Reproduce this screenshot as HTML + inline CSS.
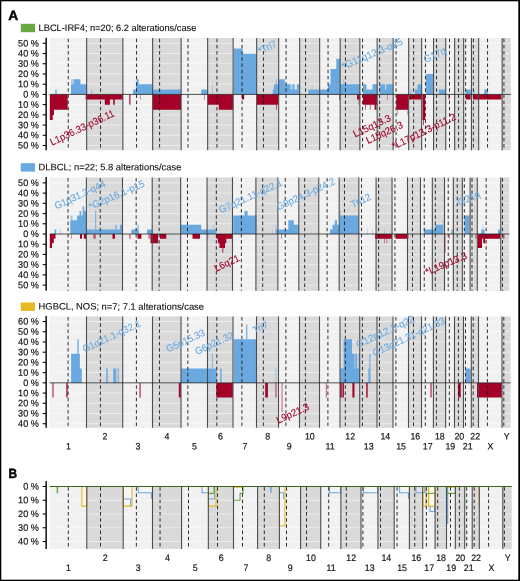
<!DOCTYPE html>
<html lang="en">
<head>
<meta charset="utf-8">
<title>Copy number alterations: LBCL-IRF4, DLBCL, HGBCL NOS</title>
<style>
html,body{margin:0;padding:0;background:#fff;}
body{width:520px;height:581px;overflow:hidden;}
svg{display:block;font-family:'Liberation Sans', Arial, sans-serif;text-rendering:geometricPrecision;}
</style>
</head>
<body>
<svg width="520" height="581" viewBox="0 0 520 581" role="img" aria-label="Copy number alteration frequency plots">
<rect x="0" y="0" width="520" height="581" fill="#ffffff"/>
<rect x="49.75" y="38" width="36.9" height="112.2" fill="#f1f1f1"/>
<rect x="86.65" y="38" width="36.2" height="112.2" fill="#d9d9d9"/>
<rect x="122.85" y="38" width="29.8" height="112.2" fill="#f1f1f1"/>
<rect x="152.65" y="38" width="28.5" height="112.2" fill="#d9d9d9"/>
<rect x="181.15" y="38" width="26.5" height="112.2" fill="#f1f1f1"/>
<rect x="207.65" y="38" width="25.5" height="112.2" fill="#d9d9d9"/>
<rect x="233.15" y="38" width="23.5" height="112.2" fill="#f1f1f1"/>
<rect x="256.65" y="38" width="22" height="112.2" fill="#d9d9d9"/>
<rect x="278.65" y="38" width="21" height="112.2" fill="#f1f1f1"/>
<rect x="299.65" y="38" width="20" height="112.2" fill="#d9d9d9"/>
<rect x="319.65" y="38" width="20.5" height="112.2" fill="#f1f1f1"/>
<rect x="340.15" y="38" width="19.7" height="112.2" fill="#d9d9d9"/>
<rect x="359.85" y="38" width="17.3" height="112.2" fill="#f1f1f1"/>
<rect x="377.15" y="38" width="16" height="112.2" fill="#d9d9d9"/>
<rect x="393.15" y="38" width="15.5" height="112.2" fill="#f1f1f1"/>
<rect x="408.65" y="38" width="13" height="112.2" fill="#d9d9d9"/>
<rect x="421.65" y="38" width="11.9" height="112.2" fill="#f1f1f1"/>
<rect x="433.55" y="38" width="12.2" height="112.2" fill="#d9d9d9"/>
<rect x="445.75" y="38" width="8.9" height="112.2" fill="#f1f1f1"/>
<rect x="454.65" y="38" width="9" height="112.2" fill="#d9d9d9"/>
<rect x="463.65" y="38" width="7.8" height="112.2" fill="#f1f1f1"/>
<rect x="471.45" y="38" width="7.2" height="112.2" fill="#d9d9d9"/>
<rect x="478.65" y="38" width="23.5" height="112.2" fill="#f1f1f1"/>
<rect x="502.15" y="38" width="8.6" height="112.2" fill="#d9d9d9"/>
<line x1="49.75" y1="43.3" x2="510.75" y2="43.3" stroke="#ffffff" stroke-width="1" stroke-opacity="0.5"/>
<line x1="49.75" y1="53.52" x2="510.75" y2="53.52" stroke="#ffffff" stroke-width="1" stroke-opacity="0.5"/>
<line x1="49.75" y1="63.74" x2="510.75" y2="63.74" stroke="#ffffff" stroke-width="1" stroke-opacity="0.5"/>
<line x1="49.75" y1="73.96" x2="510.75" y2="73.96" stroke="#ffffff" stroke-width="1" stroke-opacity="0.5"/>
<line x1="49.75" y1="84.18" x2="510.75" y2="84.18" stroke="#ffffff" stroke-width="1" stroke-opacity="0.5"/>
<line x1="49.75" y1="94.4" x2="510.75" y2="94.4" stroke="#ffffff" stroke-width="1" stroke-opacity="0.5"/>
<line x1="49.75" y1="104.62" x2="510.75" y2="104.62" stroke="#ffffff" stroke-width="1" stroke-opacity="0.5"/>
<line x1="49.75" y1="114.84" x2="510.75" y2="114.84" stroke="#ffffff" stroke-width="1" stroke-opacity="0.5"/>
<line x1="49.75" y1="125.06" x2="510.75" y2="125.06" stroke="#ffffff" stroke-width="1" stroke-opacity="0.5"/>
<line x1="49.75" y1="135.28" x2="510.75" y2="135.28" stroke="#ffffff" stroke-width="1" stroke-opacity="0.5"/>
<line x1="49.75" y1="145.5" x2="510.75" y2="145.5" stroke="#ffffff" stroke-width="1" stroke-opacity="0.5"/>
<path d="M71 94.5V84.3H73.7V79.2H80.4V84.3H86.6V94.5Z M133.1 94.5V89.4H135.9V84.3H136.3V84.3H136.8V79.2H138.7V84.3H152.6V89.4H181V94.5Z M201.3 94.5V89.4H207.8V94.5Z M233.8 94.5V48.6H242.5V53.7H257V94.5Z M272.8 94.5V89.4H274V84.3H278.8V79.2H284.8V84.3H290.5V89.4H293V84.3H294.5V89.4H297V84.3H299.3V94.5Z M308.3 94.5V89.4H320.3V89.4H328V84.3H330.5V69H336.3V58.8H340.4V84.3H360.2V94.5Z M363 94.5V84.3H366.4V89.4H372.5V84.3H377.5V94.5Z M379.8 94.5V84.3H385.1V89.4H386.1V84.3H393V94.5Z M415 94.5V89.4H417.5V84.3H421.6V94.5Z M425.8 94.5V74.1H433.9V94.5Z M438.8 94.5V89.4H445.6V94.5Z M465.8 94.5V89.4H470.6V94.5Z M484.2 94.5V89.4H487.6V94.5Z" fill="#6aa9e0"/>
<rect x="55.2" y="89.4" width="1.6" height="5.1" fill="#6aa9e0" fill-opacity="0.8"/>
<rect x="71" y="79.2" width="2.7" height="5.1" fill="#6aa9e0" fill-opacity="0.5"/>
<rect x="91" y="89.4" width="1.2" height="5.1" fill="#6aa9e0" fill-opacity="0.6"/>
<rect x="212.2" y="84.3" width="0.8" height="10.2" fill="#6aa9e0" fill-opacity="0.5"/>
<rect x="275.9" y="79.2" width="1" height="5.1" fill="#6aa9e0" fill-opacity="0.6"/>
<rect x="290.5" y="84.3" width="2.5" height="5.1" fill="#6aa9e0" fill-opacity="0.55"/>
<rect x="294.5" y="84.3" width="2.5" height="5.1" fill="#6aa9e0" fill-opacity="0.15"/>
<rect x="311.8" y="84.3" width="0.6" height="5.1" fill="#6aa9e0" fill-opacity="0.5"/>
<rect x="343.4" y="79.2" width="0.8" height="5.1" fill="#6aa9e0" fill-opacity="0.6"/>
<rect x="410.4" y="89.4" width="1.2" height="5.1" fill="#6aa9e0" fill-opacity="0.5"/>
<rect x="461" y="89.4" width="0.8" height="5.1" fill="#6aa9e0" fill-opacity="0.4"/>
<rect x="473.2" y="89.4" width="1.4" height="5.1" fill="#6aa9e0" fill-opacity="0.6"/>
<path d="M49.8 94.5V120H52.7V114.9H54V109.8H67.7V94.5Z M85.6 94.5V99.6H104.8V104.7H109.9V99.6H113.2V104.7H114.8V99.6H122.9V94.5Z M152.6 94.5V109.8H181V94.5Z M208 94.5V104.7H218.8V109.8H233.2V94.5Z M241.9 94.5V99.6H244.2V94.5Z M256.8 94.5V104.7H278.5V94.5Z M357 94.5V99.6H360.2V94.5Z M363 94.5V104.7H374.6V109.8H376.4V104.7H377.2V94.5Z M396.3 94.5V109.8H408.2V94.5Z M408.8 94.5V99.6H422.2V94.5Z M422.5 94.5V120H425.2V94.5Z M465.8 94.5V99.6H470.6V94.5Z M473 94.5V99.6H501.4V94.5Z" fill="#a50027"/>
<rect x="129" y="94.5" width="1.6" height="10.2" fill="#a50027" fill-opacity="0.7"/>
<rect x="140" y="94.5" width="0.8" height="5.1" fill="#a50027" fill-opacity="0.5"/>
<rect x="204" y="94.5" width="0.8" height="5.1" fill="#a50027" fill-opacity="0.6"/>
<rect x="276" y="104.7" width="1" height="5.1" fill="#a50027" fill-opacity="0.6"/>
<rect x="339.2" y="94.5" width="0.8" height="5.1" fill="#a50027" fill-opacity="0.8"/>
<rect x="358.6" y="99.6" width="0.8" height="5.1" fill="#a50027" fill-opacity="0.7"/>
<rect x="365.2" y="104.7" width="0.8" height="5.1" fill="#a50027" fill-opacity="0.7"/>
<rect x="369.8" y="104.7" width="0.8" height="5.1" fill="#a50027" fill-opacity="0.7"/>
<rect x="387.3" y="94.5" width="0.7" height="5.1" fill="#a50027" fill-opacity="0.6"/>
<rect x="397.2" y="109.8" width="0.8" height="5.1" fill="#a50027" fill-opacity="0.4"/>
<rect x="407.2" y="109.8" width="1" height="5.1" fill="#a50027" fill-opacity="0.4"/>
<rect x="423" y="120" width="1" height="5.1" fill="#a50027" fill-opacity="0.7"/>
<rect x="448.3" y="94.5" width="1.1" height="5.1" fill="#a50027" fill-opacity="0.6"/>
<line x1="86.65" y1="38" x2="86.65" y2="150.2" stroke="#4d4d4d" stroke-width="1.1"/>
<line x1="122.85" y1="38" x2="122.85" y2="150.2" stroke="#4d4d4d" stroke-width="1.1"/>
<line x1="152.65" y1="38" x2="152.65" y2="150.2" stroke="#4d4d4d" stroke-width="1.1"/>
<line x1="181.15" y1="38" x2="181.15" y2="150.2" stroke="#4d4d4d" stroke-width="1.1"/>
<line x1="207.65" y1="38" x2="207.65" y2="150.2" stroke="#4d4d4d" stroke-width="1.1"/>
<line x1="233.15" y1="38" x2="233.15" y2="150.2" stroke="#4d4d4d" stroke-width="1.1"/>
<line x1="256.65" y1="38" x2="256.65" y2="150.2" stroke="#4d4d4d" stroke-width="1.1"/>
<line x1="278.65" y1="38" x2="278.65" y2="150.2" stroke="#4d4d4d" stroke-width="1.1"/>
<line x1="299.65" y1="38" x2="299.65" y2="150.2" stroke="#4d4d4d" stroke-width="1.1"/>
<line x1="319.65" y1="38" x2="319.65" y2="150.2" stroke="#4d4d4d" stroke-width="1.1"/>
<line x1="340.15" y1="38" x2="340.15" y2="150.2" stroke="#4d4d4d" stroke-width="1.1"/>
<line x1="359.85" y1="38" x2="359.85" y2="150.2" stroke="#4d4d4d" stroke-width="1.1"/>
<line x1="377.15" y1="38" x2="377.15" y2="150.2" stroke="#4d4d4d" stroke-width="1.1"/>
<line x1="393.15" y1="38" x2="393.15" y2="150.2" stroke="#4d4d4d" stroke-width="1.1"/>
<line x1="408.65" y1="38" x2="408.65" y2="150.2" stroke="#4d4d4d" stroke-width="1.1"/>
<line x1="421.65" y1="38" x2="421.65" y2="150.2" stroke="#4d4d4d" stroke-width="1.1"/>
<line x1="433.55" y1="38" x2="433.55" y2="150.2" stroke="#4d4d4d" stroke-width="1.1"/>
<line x1="445.75" y1="38" x2="445.75" y2="150.2" stroke="#4d4d4d" stroke-width="1.1"/>
<line x1="454.65" y1="38" x2="454.65" y2="150.2" stroke="#4d4d4d" stroke-width="1.1"/>
<line x1="463.65" y1="38" x2="463.65" y2="150.2" stroke="#4d4d4d" stroke-width="1.1"/>
<line x1="471.45" y1="38" x2="471.45" y2="150.2" stroke="#4d4d4d" stroke-width="1.1"/>
<line x1="478.65" y1="38" x2="478.65" y2="150.2" stroke="#4d4d4d" stroke-width="1.1"/>
<line x1="502.15" y1="38" x2="502.15" y2="150.2" stroke="#4d4d4d" stroke-width="1.1"/>
<line x1="68.25" y1="38.7" x2="68.25" y2="150.2" stroke="#1a1a1a" stroke-width="1" stroke-dasharray="3.5 2.7" stroke-opacity="0.9"/>
<line x1="100.55" y1="38.7" x2="100.55" y2="150.2" stroke="#1a1a1a" stroke-width="1" stroke-dasharray="3.5 2.7" stroke-opacity="0.9"/>
<line x1="136.55" y1="38.7" x2="136.55" y2="150.2" stroke="#1a1a1a" stroke-width="1" stroke-dasharray="3.5 2.7" stroke-opacity="0.9"/>
<line x1="159.6" y1="38.7" x2="159.6" y2="150.2" stroke="#1a1a1a" stroke-width="1" stroke-dasharray="3.5 2.7" stroke-opacity="0.9"/>
<line x1="188" y1="38.7" x2="188" y2="150.2" stroke="#1a1a1a" stroke-width="1" stroke-dasharray="3.5 2.7" stroke-opacity="0.9"/>
<line x1="216.95" y1="38.7" x2="216.95" y2="150.2" stroke="#1a1a1a" stroke-width="1" stroke-dasharray="3.5 2.7" stroke-opacity="0.9"/>
<line x1="242.05" y1="38.7" x2="242.05" y2="150.2" stroke="#1a1a1a" stroke-width="1" stroke-dasharray="3.5 2.7" stroke-opacity="0.9"/>
<line x1="263.45" y1="38.7" x2="263.45" y2="150.2" stroke="#1a1a1a" stroke-width="1" stroke-dasharray="3.5 2.7" stroke-opacity="0.9"/>
<line x1="286.05" y1="38.7" x2="286.05" y2="150.2" stroke="#1a1a1a" stroke-width="1" stroke-dasharray="3.5 2.7" stroke-opacity="0.9"/>
<line x1="305.55" y1="38.7" x2="305.55" y2="150.2" stroke="#1a1a1a" stroke-width="1" stroke-dasharray="3.5 2.7" stroke-opacity="0.9"/>
<line x1="328.05" y1="38.7" x2="328.05" y2="150.2" stroke="#1a1a1a" stroke-width="1" stroke-dasharray="3.5 2.7" stroke-opacity="0.9"/>
<line x1="345.45" y1="38.7" x2="345.45" y2="150.2" stroke="#1a1a1a" stroke-width="1" stroke-dasharray="3.5 2.7" stroke-opacity="0.9"/>
<line x1="362.55" y1="38.7" x2="362.55" y2="150.2" stroke="#1a1a1a" stroke-width="1" stroke-dasharray="3.5 2.7" stroke-opacity="0.9"/>
<line x1="379.65" y1="38.7" x2="379.65" y2="150.2" stroke="#1a1a1a" stroke-width="1" stroke-dasharray="3.5 2.7" stroke-opacity="0.9"/>
<line x1="396.05" y1="38.7" x2="396.05" y2="150.2" stroke="#1a1a1a" stroke-width="1" stroke-dasharray="3.5 2.7" stroke-opacity="0.9"/>
<line x1="413.65" y1="38.7" x2="413.65" y2="150.2" stroke="#1a1a1a" stroke-width="1" stroke-dasharray="3.5 2.7" stroke-opacity="0.9"/>
<line x1="425.45" y1="38.7" x2="425.45" y2="150.2" stroke="#1a1a1a" stroke-width="1" stroke-dasharray="3.5 2.7" stroke-opacity="0.9"/>
<line x1="436.55" y1="38.7" x2="436.55" y2="150.2" stroke="#1a1a1a" stroke-width="1" stroke-dasharray="3.5 2.7" stroke-opacity="0.9"/>
<line x1="449.5" y1="38.7" x2="449.5" y2="150.2" stroke="#1a1a1a" stroke-width="1" stroke-dasharray="3.5 2.7" stroke-opacity="0.9"/>
<line x1="458.55" y1="38.7" x2="458.55" y2="150.2" stroke="#1a1a1a" stroke-width="1" stroke-dasharray="3.5 2.7" stroke-opacity="0.9"/>
<line x1="465.65" y1="38.7" x2="465.65" y2="150.2" stroke="#1a1a1a" stroke-width="1" stroke-dasharray="3.5 2.7" stroke-opacity="0.9"/>
<line x1="473.35" y1="38.7" x2="473.35" y2="150.2" stroke="#1a1a1a" stroke-width="1" stroke-dasharray="3.5 2.7" stroke-opacity="0.9"/>
<line x1="487.55" y1="38.7" x2="487.55" y2="150.2" stroke="#1a1a1a" stroke-width="1" stroke-dasharray="3.5 2.7" stroke-opacity="0.9"/>
<line x1="503.95" y1="38.7" x2="503.95" y2="150.2" stroke="#1a1a1a" stroke-width="1" stroke-dasharray="3.5 2.7" stroke-opacity="0.9"/>
<line x1="49.75" y1="94.4" x2="510.75" y2="94.4" stroke="#222222" stroke-width="0.8"/>
<text x="52" y="145.8" font-size="10" fill="#a50027" stroke="#a50027" stroke-width="0.1" transform="rotate(-25.5 52 145.8)" textLength="70.02" lengthAdjust="spacingAndGlyphs">L1p36.33-p36.11</text>
<text x="260.1" y="54.5" font-size="10" fill="#6aa9e0" stroke="#6aa9e0" stroke-width="0.1" transform="rotate(-25 260.1 54.5)" textLength="19.08" lengthAdjust="spacingAndGlyphs">*Tri7</text>
<text x="343.6" y="69.8" font-size="10" fill="#6aa9e0" stroke="#6aa9e0" stroke-width="0.1" transform="rotate(-23.2 343.6 69.8)" textLength="65.08" lengthAdjust="spacingAndGlyphs">*G11q12.3-q25</text>
<text x="425.4" y="63" font-size="10" fill="#6aa9e0" stroke="#6aa9e0" stroke-width="0.1" transform="rotate(-25 425.4 63)" textLength="23.73" lengthAdjust="spacingAndGlyphs">G17q</text>
<text x="355" y="137.5" font-size="10" fill="#a50027" stroke="#a50027" stroke-width="0.1" transform="rotate(-25 355 137.5)" textLength="40.46" lengthAdjust="spacingAndGlyphs">L15q13.3</text>
<text x="368" y="144" font-size="10" fill="#a50027" stroke="#a50027" stroke-width="0.1" transform="rotate(-25 368 144)" textLength="39.42" lengthAdjust="spacingAndGlyphs">L15q26.3</text>
<text x="394" y="149.7" font-size="10" fill="#a50027" stroke="#a50027" stroke-width="0.1" transform="rotate(-26 394 149.7)" textLength="69.55" lengthAdjust="spacingAndGlyphs">*L17p13.3-p11.2</text>
<line x1="46.15" y1="37.7" x2="46.15" y2="150.2" stroke="#0a0a0a" stroke-width="1.45"/>
<line x1="42.7" y1="43.3" x2="46.15" y2="43.3" stroke="#000000" stroke-width="1.05"/>
<text x="38.9" y="46.4" font-size="9.4" fill="#111" stroke="#111" stroke-width="0.18" text-anchor="end" transform="rotate(0.03 38.9 46.4)" textLength="20.78" lengthAdjust="spacingAndGlyphs">50 %</text>
<line x1="42.7" y1="53.52" x2="46.15" y2="53.52" stroke="#000000" stroke-width="1.05"/>
<text x="38.9" y="56.62" font-size="9.4" fill="#111" stroke="#111" stroke-width="0.18" text-anchor="end" transform="rotate(0.03 38.9 56.62)" textLength="20.78" lengthAdjust="spacingAndGlyphs">40 %</text>
<line x1="42.7" y1="63.74" x2="46.15" y2="63.74" stroke="#000000" stroke-width="1.05"/>
<text x="38.9" y="66.84" font-size="9.4" fill="#111" stroke="#111" stroke-width="0.18" text-anchor="end" transform="rotate(0.03 38.9 66.84)" textLength="20.78" lengthAdjust="spacingAndGlyphs">30 %</text>
<line x1="42.7" y1="73.96" x2="46.15" y2="73.96" stroke="#000000" stroke-width="1.05"/>
<text x="38.9" y="77.06" font-size="9.4" fill="#111" stroke="#111" stroke-width="0.18" text-anchor="end" transform="rotate(0.03 38.9 77.06)" textLength="20.78" lengthAdjust="spacingAndGlyphs">20 %</text>
<line x1="42.7" y1="84.18" x2="46.15" y2="84.18" stroke="#000000" stroke-width="1.05"/>
<text x="38.9" y="87.28" font-size="9.4" fill="#111" stroke="#111" stroke-width="0.18" text-anchor="end" transform="rotate(0.03 38.9 87.28)" textLength="20.78" lengthAdjust="spacingAndGlyphs">10 %</text>
<line x1="42.7" y1="94.4" x2="46.15" y2="94.4" stroke="#000000" stroke-width="1.05"/>
<text x="38.9" y="97.5" font-size="9.4" fill="#111" stroke="#111" stroke-width="0.18" text-anchor="end" transform="rotate(0.03 38.9 97.5)" textLength="15.71" lengthAdjust="spacingAndGlyphs">0 %</text>
<line x1="42.7" y1="104.62" x2="46.15" y2="104.62" stroke="#000000" stroke-width="1.05"/>
<text x="38.9" y="107.72" font-size="9.4" fill="#111" stroke="#111" stroke-width="0.18" text-anchor="end" transform="rotate(0.03 38.9 107.72)" textLength="20.78" lengthAdjust="spacingAndGlyphs">10 %</text>
<line x1="42.7" y1="114.84" x2="46.15" y2="114.84" stroke="#000000" stroke-width="1.05"/>
<text x="38.9" y="117.94" font-size="9.4" fill="#111" stroke="#111" stroke-width="0.18" text-anchor="end" transform="rotate(0.03 38.9 117.94)" textLength="20.78" lengthAdjust="spacingAndGlyphs">20 %</text>
<line x1="42.7" y1="125.06" x2="46.15" y2="125.06" stroke="#000000" stroke-width="1.05"/>
<text x="38.9" y="128.16" font-size="9.4" fill="#111" stroke="#111" stroke-width="0.18" text-anchor="end" transform="rotate(0.03 38.9 128.16)" textLength="20.78" lengthAdjust="spacingAndGlyphs">30 %</text>
<line x1="42.7" y1="135.28" x2="46.15" y2="135.28" stroke="#000000" stroke-width="1.05"/>
<text x="38.9" y="138.38" font-size="9.4" fill="#111" stroke="#111" stroke-width="0.18" text-anchor="end" transform="rotate(0.03 38.9 138.38)" textLength="20.78" lengthAdjust="spacingAndGlyphs">40 %</text>
<line x1="42.7" y1="145.5" x2="46.15" y2="145.5" stroke="#000000" stroke-width="1.05"/>
<text x="38.9" y="148.6" font-size="9.4" fill="#111" stroke="#111" stroke-width="0.18" text-anchor="end" transform="rotate(0.03 38.9 148.6)" textLength="20.78" lengthAdjust="spacingAndGlyphs">50 %</text>
<rect x="20.8" y="23.8" width="14.2" height="8.4" fill="#68a743"/>
<text x="38.6" y="30.9" font-size="9.4" fill="#111" stroke="#111" stroke-width="0.12" transform="rotate(0.03 38.6 30.9)" textLength="157.8" lengthAdjust="spacingAndGlyphs">LBCL-IRF4; n=20; 6.2 alterations/case</text>
<rect x="49.6" y="177.4" width="36.8" height="113.4" fill="#f1f1f1"/>
<rect x="86.4" y="177.4" width="36.1" height="113.4" fill="#d9d9d9"/>
<rect x="122.5" y="177.4" width="29.72" height="113.4" fill="#f1f1f1"/>
<rect x="152.21" y="177.4" width="28.42" height="113.4" fill="#d9d9d9"/>
<rect x="180.63" y="177.4" width="26.43" height="113.4" fill="#f1f1f1"/>
<rect x="207.06" y="177.4" width="25.43" height="113.4" fill="#d9d9d9"/>
<rect x="232.49" y="177.4" width="23.43" height="113.4" fill="#f1f1f1"/>
<rect x="255.92" y="177.4" width="21.94" height="113.4" fill="#d9d9d9"/>
<rect x="277.86" y="177.4" width="20.94" height="113.4" fill="#f1f1f1"/>
<rect x="298.8" y="177.4" width="19.94" height="113.4" fill="#d9d9d9"/>
<rect x="318.74" y="177.4" width="20.44" height="113.4" fill="#f1f1f1"/>
<rect x="339.19" y="177.4" width="19.64" height="113.4" fill="#d9d9d9"/>
<rect x="358.83" y="177.4" width="17.25" height="113.4" fill="#f1f1f1"/>
<rect x="376.08" y="177.4" width="15.96" height="113.4" fill="#d9d9d9"/>
<rect x="392.04" y="177.4" width="15.46" height="113.4" fill="#f1f1f1"/>
<rect x="407.5" y="177.4" width="12.96" height="113.4" fill="#d9d9d9"/>
<rect x="420.46" y="177.4" width="11.87" height="113.4" fill="#f1f1f1"/>
<rect x="432.33" y="177.4" width="12.17" height="113.4" fill="#d9d9d9"/>
<rect x="444.49" y="177.4" width="8.88" height="113.4" fill="#f1f1f1"/>
<rect x="453.37" y="177.4" width="8.97" height="113.4" fill="#d9d9d9"/>
<rect x="462.34" y="177.4" width="7.78" height="113.4" fill="#f1f1f1"/>
<rect x="470.12" y="177.4" width="7.18" height="113.4" fill="#d9d9d9"/>
<rect x="477.3" y="177.4" width="23.43" height="113.4" fill="#f1f1f1"/>
<rect x="500.73" y="177.4" width="8.58" height="113.4" fill="#d9d9d9"/>
<line x1="49.6" y1="182.9" x2="509.31" y2="182.9" stroke="#ffffff" stroke-width="1" stroke-opacity="0.5"/>
<line x1="49.6" y1="193.12" x2="509.31" y2="193.12" stroke="#ffffff" stroke-width="1" stroke-opacity="0.5"/>
<line x1="49.6" y1="203.34" x2="509.31" y2="203.34" stroke="#ffffff" stroke-width="1" stroke-opacity="0.5"/>
<line x1="49.6" y1="213.56" x2="509.31" y2="213.56" stroke="#ffffff" stroke-width="1" stroke-opacity="0.5"/>
<line x1="49.6" y1="223.78" x2="509.31" y2="223.78" stroke="#ffffff" stroke-width="1" stroke-opacity="0.5"/>
<line x1="49.6" y1="234" x2="509.31" y2="234" stroke="#ffffff" stroke-width="1" stroke-opacity="0.5"/>
<line x1="49.6" y1="244.22" x2="509.31" y2="244.22" stroke="#ffffff" stroke-width="1" stroke-opacity="0.5"/>
<line x1="49.6" y1="254.44" x2="509.31" y2="254.44" stroke="#ffffff" stroke-width="1" stroke-opacity="0.5"/>
<line x1="49.6" y1="264.66" x2="509.31" y2="264.66" stroke="#ffffff" stroke-width="1" stroke-opacity="0.5"/>
<line x1="49.6" y1="274.88" x2="509.31" y2="274.88" stroke="#ffffff" stroke-width="1" stroke-opacity="0.5"/>
<line x1="49.6" y1="285.1" x2="509.31" y2="285.1" stroke="#ffffff" stroke-width="1" stroke-opacity="0.5"/>
<path d="M54.5 234.1V229.46H56.2V234.1Z M70.2 234.1V220.19H77V215.55H79.5V210.92H81.2V215.55H82.6V206.28H84.2V210.92H86.6V234.1Z M86.8 234.1V229.46H120V224.83H122.6V234.1Z M131.3 234.1V229.46H138.8V234.1Z M147 234.1V229.46H152.2V234.1Z M180.8 234.1V224.83H201.3V229.46H216.3V234.1Z M233.3 234.1V215.55H244.5V210.92H247.6V215.55H256.6V234.1Z M275.6 234.1V229.46H288.3V220.19H293.8V224.83H298.8V234.1Z M330 234.1V229.46H332.5V224.83H334.8V220.19H337V224.83H339.6V215.55H358.8V234.1Z M423.8 234.1V229.46H435V224.83H443.4V234.1Z M451.2 234.1V229.46H452.6V234.1Z M464.5 234.1V215.55H469.6V234.1Z M481.2 234.1V229.46H484.6V234.1Z M498 234.1V229.46H500V234.1Z" fill="#6aa9e0"/>
<rect x="59.8" y="229.46" width="0.8" height="4.64" fill="#6aa9e0" fill-opacity="0.5"/>
<rect x="70.8" y="215.55" width="1.6" height="4.64" fill="#6aa9e0" fill-opacity="0.7"/>
<rect x="95" y="210.92" width="1.2" height="18.55" fill="#6aa9e0" fill-opacity="0.8"/>
<rect x="115.3" y="224.83" width="1.2" height="4.64" fill="#6aa9e0" fill-opacity="0.9"/>
<rect x="137.5" y="224.83" width="1.2" height="4.64" fill="#6aa9e0" fill-opacity="0.85"/>
<rect x="213" y="224.83" width="0.6" height="4.64" fill="#6aa9e0" fill-opacity="0.5"/>
<rect x="271.8" y="229.46" width="0.8" height="4.64" fill="#6aa9e0" fill-opacity="0.5"/>
<rect x="275.2" y="224.83" width="0.8" height="4.64" fill="#6aa9e0" fill-opacity="0.5"/>
<rect x="278" y="215.55" width="0.6" height="13.91" fill="#6aa9e0" fill-opacity="0.5"/>
<rect x="339.8" y="210.92" width="0.8" height="4.64" fill="#6aa9e0" fill-opacity="0.7"/>
<rect x="367.2" y="229.46" width="0.8" height="4.64" fill="#6aa9e0" fill-opacity="0.5"/>
<rect x="372.2" y="229.46" width="0.8" height="4.64" fill="#6aa9e0" fill-opacity="0.5"/>
<rect x="384" y="229.46" width="0.8" height="4.64" fill="#6aa9e0" fill-opacity="0.5"/>
<rect x="442.8" y="220.19" width="0.8" height="4.64" fill="#6aa9e0" fill-opacity="0.7"/>
<rect x="482.6" y="224.83" width="0.8" height="4.64" fill="#6aa9e0" fill-opacity="0.5"/>
<path d="M49.8 234.1V248.01H52V243.37H53.8V238.74H55.5V234.1Z M80 234.1V238.74H82V234.1Z M83.8 234.1V238.74H86.3V234.1Z M112.5 234.1V238.74H115V234.1Z M137.5 234.1V238.74H141.4V234.1Z M150.5 234.1V243.37H158V234.1Z M160 234.1V238.74H166.3V234.1Z M192.5 234.1V238.74H200V234.1Z M216.3 234.1V238.74H218V243.37H219.5V248.01H225V243.37H226.3V238.74H232.6V234.1Z M375 234.1V238.74H392V234.1Z M395.5 234.1V238.74H407.6V234.1Z M477.6 234.1V248.01H482V238.74H483.2V243.37H485.2V238.74H500.2V234.1Z" fill="#a50027"/>
<rect x="71" y="234.1" width="0.8" height="4.64" fill="#a50027" fill-opacity="0.5"/>
<rect x="93.3" y="234.1" width="2.5" height="4.64" fill="#a50027" fill-opacity="0.6"/>
<rect x="129.1" y="234.1" width="1.7" height="4.64" fill="#a50027" fill-opacity="0.5"/>
<rect x="148.4" y="234.1" width="2" height="4.64" fill="#a50027" fill-opacity="0.5"/>
<rect x="207.4" y="234.1" width="0.8" height="4.64" fill="#a50027" fill-opacity="0.5"/>
<rect x="222" y="248.01" width="1.4" height="4.64" fill="#a50027" fill-opacity="0.6"/>
<rect x="281" y="234.1" width="0.8" height="4.64" fill="#a50027" fill-opacity="0.6"/>
<rect x="384.2" y="238.74" width="0.8" height="4.64" fill="#a50027" fill-opacity="0.5"/>
<rect x="386.4" y="238.74" width="0.8" height="4.64" fill="#a50027" fill-opacity="0.5"/>
<rect x="407.6" y="234.1" width="1.4" height="4.64" fill="#a50027" fill-opacity="0.35"/>
<rect x="444.8" y="234.1" width="0.8" height="18.55" fill="#a50027" fill-opacity="0.6"/>
<rect x="448.6" y="234.1" width="1.4" height="4.64" fill="#a50027" fill-opacity="0.4"/>
<rect x="475.1" y="234.1" width="2.5" height="4.64" fill="#a50027" fill-opacity="0.4"/>
<rect x="502.5" y="234.1" width="2" height="4.64" fill="#a50027" fill-opacity="0.6"/>
<line x1="86.4" y1="177.4" x2="86.4" y2="290.8" stroke="#4d4d4d" stroke-width="1.1"/>
<line x1="122.5" y1="177.4" x2="122.5" y2="290.8" stroke="#4d4d4d" stroke-width="1.1"/>
<line x1="152.21" y1="177.4" x2="152.21" y2="290.8" stroke="#4d4d4d" stroke-width="1.1"/>
<line x1="180.63" y1="177.4" x2="180.63" y2="290.8" stroke="#4d4d4d" stroke-width="1.1"/>
<line x1="207.06" y1="177.4" x2="207.06" y2="290.8" stroke="#4d4d4d" stroke-width="1.1"/>
<line x1="232.49" y1="177.4" x2="232.49" y2="290.8" stroke="#4d4d4d" stroke-width="1.1"/>
<line x1="255.92" y1="177.4" x2="255.92" y2="290.8" stroke="#4d4d4d" stroke-width="1.1"/>
<line x1="277.86" y1="177.4" x2="277.86" y2="290.8" stroke="#4d4d4d" stroke-width="1.1"/>
<line x1="298.8" y1="177.4" x2="298.8" y2="290.8" stroke="#4d4d4d" stroke-width="1.1"/>
<line x1="318.74" y1="177.4" x2="318.74" y2="290.8" stroke="#4d4d4d" stroke-width="1.1"/>
<line x1="339.19" y1="177.4" x2="339.19" y2="290.8" stroke="#4d4d4d" stroke-width="1.1"/>
<line x1="358.83" y1="177.4" x2="358.83" y2="290.8" stroke="#4d4d4d" stroke-width="1.1"/>
<line x1="376.08" y1="177.4" x2="376.08" y2="290.8" stroke="#4d4d4d" stroke-width="1.1"/>
<line x1="392.04" y1="177.4" x2="392.04" y2="290.8" stroke="#4d4d4d" stroke-width="1.1"/>
<line x1="407.5" y1="177.4" x2="407.5" y2="290.8" stroke="#4d4d4d" stroke-width="1.1"/>
<line x1="420.46" y1="177.4" x2="420.46" y2="290.8" stroke="#4d4d4d" stroke-width="1.1"/>
<line x1="432.33" y1="177.4" x2="432.33" y2="290.8" stroke="#4d4d4d" stroke-width="1.1"/>
<line x1="444.49" y1="177.4" x2="444.49" y2="290.8" stroke="#4d4d4d" stroke-width="1.1"/>
<line x1="453.37" y1="177.4" x2="453.37" y2="290.8" stroke="#4d4d4d" stroke-width="1.1"/>
<line x1="462.34" y1="177.4" x2="462.34" y2="290.8" stroke="#4d4d4d" stroke-width="1.1"/>
<line x1="470.12" y1="177.4" x2="470.12" y2="290.8" stroke="#4d4d4d" stroke-width="1.1"/>
<line x1="477.3" y1="177.4" x2="477.3" y2="290.8" stroke="#4d4d4d" stroke-width="1.1"/>
<line x1="500.73" y1="177.4" x2="500.73" y2="290.8" stroke="#4d4d4d" stroke-width="1.1"/>
<line x1="68.05" y1="178.1" x2="68.05" y2="290.8" stroke="#1a1a1a" stroke-width="1" stroke-dasharray="3.5 2.7" stroke-opacity="0.9"/>
<line x1="100.26" y1="178.1" x2="100.26" y2="290.8" stroke="#1a1a1a" stroke-width="1" stroke-dasharray="3.5 2.7" stroke-opacity="0.9"/>
<line x1="136.16" y1="178.1" x2="136.16" y2="290.8" stroke="#1a1a1a" stroke-width="1" stroke-dasharray="3.5 2.7" stroke-opacity="0.9"/>
<line x1="159.14" y1="178.1" x2="159.14" y2="290.8" stroke="#1a1a1a" stroke-width="1" stroke-dasharray="3.5 2.7" stroke-opacity="0.9"/>
<line x1="187.46" y1="178.1" x2="187.46" y2="290.8" stroke="#1a1a1a" stroke-width="1" stroke-dasharray="3.5 2.7" stroke-opacity="0.9"/>
<line x1="216.33" y1="178.1" x2="216.33" y2="290.8" stroke="#1a1a1a" stroke-width="1" stroke-dasharray="3.5 2.7" stroke-opacity="0.9"/>
<line x1="241.36" y1="178.1" x2="241.36" y2="290.8" stroke="#1a1a1a" stroke-width="1" stroke-dasharray="3.5 2.7" stroke-opacity="0.9"/>
<line x1="262.7" y1="178.1" x2="262.7" y2="290.8" stroke="#1a1a1a" stroke-width="1" stroke-dasharray="3.5 2.7" stroke-opacity="0.9"/>
<line x1="285.24" y1="178.1" x2="285.24" y2="290.8" stroke="#1a1a1a" stroke-width="1" stroke-dasharray="3.5 2.7" stroke-opacity="0.9"/>
<line x1="304.68" y1="178.1" x2="304.68" y2="290.8" stroke="#1a1a1a" stroke-width="1" stroke-dasharray="3.5 2.7" stroke-opacity="0.9"/>
<line x1="327.12" y1="178.1" x2="327.12" y2="290.8" stroke="#1a1a1a" stroke-width="1" stroke-dasharray="3.5 2.7" stroke-opacity="0.9"/>
<line x1="344.47" y1="178.1" x2="344.47" y2="290.8" stroke="#1a1a1a" stroke-width="1" stroke-dasharray="3.5 2.7" stroke-opacity="0.9"/>
<line x1="361.52" y1="178.1" x2="361.52" y2="290.8" stroke="#1a1a1a" stroke-width="1" stroke-dasharray="3.5 2.7" stroke-opacity="0.9"/>
<line x1="378.58" y1="178.1" x2="378.58" y2="290.8" stroke="#1a1a1a" stroke-width="1" stroke-dasharray="3.5 2.7" stroke-opacity="0.9"/>
<line x1="394.93" y1="178.1" x2="394.93" y2="290.8" stroke="#1a1a1a" stroke-width="1" stroke-dasharray="3.5 2.7" stroke-opacity="0.9"/>
<line x1="412.48" y1="178.1" x2="412.48" y2="290.8" stroke="#1a1a1a" stroke-width="1" stroke-dasharray="3.5 2.7" stroke-opacity="0.9"/>
<line x1="424.25" y1="178.1" x2="424.25" y2="290.8" stroke="#1a1a1a" stroke-width="1" stroke-dasharray="3.5 2.7" stroke-opacity="0.9"/>
<line x1="435.32" y1="178.1" x2="435.32" y2="290.8" stroke="#1a1a1a" stroke-width="1" stroke-dasharray="3.5 2.7" stroke-opacity="0.9"/>
<line x1="448.23" y1="178.1" x2="448.23" y2="290.8" stroke="#1a1a1a" stroke-width="1" stroke-dasharray="3.5 2.7" stroke-opacity="0.9"/>
<line x1="457.26" y1="178.1" x2="457.26" y2="290.8" stroke="#1a1a1a" stroke-width="1" stroke-dasharray="3.5 2.7" stroke-opacity="0.9"/>
<line x1="464.34" y1="178.1" x2="464.34" y2="290.8" stroke="#1a1a1a" stroke-width="1" stroke-dasharray="3.5 2.7" stroke-opacity="0.9"/>
<line x1="472.01" y1="178.1" x2="472.01" y2="290.8" stroke="#1a1a1a" stroke-width="1" stroke-dasharray="3.5 2.7" stroke-opacity="0.9"/>
<line x1="486.17" y1="178.1" x2="486.17" y2="290.8" stroke="#1a1a1a" stroke-width="1" stroke-dasharray="3.5 2.7" stroke-opacity="0.9"/>
<line x1="502.53" y1="178.1" x2="502.53" y2="290.8" stroke="#1a1a1a" stroke-width="1" stroke-dasharray="3.5 2.7" stroke-opacity="0.9"/>
<line x1="49.6" y1="234" x2="509.31" y2="234" stroke="#222222" stroke-width="0.8"/>
<text x="56.4" y="209.5" font-size="10" fill="#6aa9e0" stroke="#6aa9e0" stroke-width="0.1" transform="rotate(-25 56.4 209.5)" textLength="54.88" lengthAdjust="spacingAndGlyphs">G1q31.3-q44</text>
<text x="90.5" y="210" font-size="10" fill="#6aa9e0" stroke="#6aa9e0" stroke-width="0.1" transform="rotate(-23.5 90.5 210)" textLength="59.78" lengthAdjust="spacingAndGlyphs">*G2p16.1-p15</text>
<text x="216.3" y="271.7" font-size="10" fill="#a50027" stroke="#a50027" stroke-width="0.1" transform="rotate(-25 216.3 271.7)" textLength="26.42" lengthAdjust="spacingAndGlyphs">L6q21</text>
<text x="220.8" y="213.5" font-size="10" fill="#6aa9e0" stroke="#6aa9e0" stroke-width="0.1" transform="rotate(-24.5 220.8 213.5)" textLength="68.39" lengthAdjust="spacingAndGlyphs">G7q21.11-q22.1</text>
<text x="278.5" y="210.5" font-size="10" fill="#6aa9e0" stroke="#6aa9e0" stroke-width="0.1" transform="rotate(-25 278.5 210.5)" textLength="63.12" lengthAdjust="spacingAndGlyphs">G9p24.3-p24.2</text>
<text x="352.7" y="208.1" font-size="10" fill="#6aa9e0" stroke="#6aa9e0" stroke-width="0.1" transform="rotate(-25 352.7 208.1)" textLength="20.84" lengthAdjust="spacingAndGlyphs">Tri12</text>
<text x="459.7" y="206.2" font-size="10" fill="#6aa9e0" stroke="#6aa9e0" stroke-width="0.1" transform="rotate(-25 459.7 206.2)" textLength="23.24" lengthAdjust="spacingAndGlyphs">G21q</text>
<text x="427" y="275.4" font-size="10" fill="#a50027" stroke="#a50027" stroke-width="0.1" transform="rotate(-23 427 275.4)" textLength="44.23" lengthAdjust="spacingAndGlyphs">*L19p13.3</text>
<line x1="46.15" y1="177.1" x2="46.15" y2="290.8" stroke="#0a0a0a" stroke-width="1.45"/>
<line x1="42.7" y1="182.9" x2="46.15" y2="182.9" stroke="#000000" stroke-width="1.05"/>
<text x="38.9" y="186" font-size="9.4" fill="#111" stroke="#111" stroke-width="0.18" text-anchor="end" transform="rotate(0.03 38.9 186)" textLength="20.78" lengthAdjust="spacingAndGlyphs">50 %</text>
<line x1="42.7" y1="193.12" x2="46.15" y2="193.12" stroke="#000000" stroke-width="1.05"/>
<text x="38.9" y="196.22" font-size="9.4" fill="#111" stroke="#111" stroke-width="0.18" text-anchor="end" transform="rotate(0.03 38.9 196.22)" textLength="20.78" lengthAdjust="spacingAndGlyphs">40 %</text>
<line x1="42.7" y1="203.34" x2="46.15" y2="203.34" stroke="#000000" stroke-width="1.05"/>
<text x="38.9" y="206.44" font-size="9.4" fill="#111" stroke="#111" stroke-width="0.18" text-anchor="end" transform="rotate(0.03 38.9 206.44)" textLength="20.78" lengthAdjust="spacingAndGlyphs">30 %</text>
<line x1="42.7" y1="213.56" x2="46.15" y2="213.56" stroke="#000000" stroke-width="1.05"/>
<text x="38.9" y="216.66" font-size="9.4" fill="#111" stroke="#111" stroke-width="0.18" text-anchor="end" transform="rotate(0.03 38.9 216.66)" textLength="20.78" lengthAdjust="spacingAndGlyphs">20 %</text>
<line x1="42.7" y1="223.78" x2="46.15" y2="223.78" stroke="#000000" stroke-width="1.05"/>
<text x="38.9" y="226.88" font-size="9.4" fill="#111" stroke="#111" stroke-width="0.18" text-anchor="end" transform="rotate(0.03 38.9 226.88)" textLength="20.78" lengthAdjust="spacingAndGlyphs">10 %</text>
<line x1="42.7" y1="234" x2="46.15" y2="234" stroke="#000000" stroke-width="1.05"/>
<text x="38.9" y="237.1" font-size="9.4" fill="#111" stroke="#111" stroke-width="0.18" text-anchor="end" transform="rotate(0.03 38.9 237.1)" textLength="15.71" lengthAdjust="spacingAndGlyphs">0 %</text>
<line x1="42.7" y1="244.22" x2="46.15" y2="244.22" stroke="#000000" stroke-width="1.05"/>
<text x="38.9" y="247.32" font-size="9.4" fill="#111" stroke="#111" stroke-width="0.18" text-anchor="end" transform="rotate(0.03 38.9 247.32)" textLength="20.78" lengthAdjust="spacingAndGlyphs">10 %</text>
<line x1="42.7" y1="254.44" x2="46.15" y2="254.44" stroke="#000000" stroke-width="1.05"/>
<text x="38.9" y="257.54" font-size="9.4" fill="#111" stroke="#111" stroke-width="0.18" text-anchor="end" transform="rotate(0.03 38.9 257.54)" textLength="20.78" lengthAdjust="spacingAndGlyphs">20 %</text>
<line x1="42.7" y1="264.66" x2="46.15" y2="264.66" stroke="#000000" stroke-width="1.05"/>
<text x="38.9" y="267.76" font-size="9.4" fill="#111" stroke="#111" stroke-width="0.18" text-anchor="end" transform="rotate(0.03 38.9 267.76)" textLength="20.78" lengthAdjust="spacingAndGlyphs">30 %</text>
<line x1="42.7" y1="274.88" x2="46.15" y2="274.88" stroke="#000000" stroke-width="1.05"/>
<text x="38.9" y="277.98" font-size="9.4" fill="#111" stroke="#111" stroke-width="0.18" text-anchor="end" transform="rotate(0.03 38.9 277.98)" textLength="20.78" lengthAdjust="spacingAndGlyphs">40 %</text>
<line x1="42.7" y1="285.1" x2="46.15" y2="285.1" stroke="#000000" stroke-width="1.05"/>
<text x="38.9" y="288.2" font-size="9.4" fill="#111" stroke="#111" stroke-width="0.18" text-anchor="end" transform="rotate(0.03 38.9 288.2)" textLength="20.78" lengthAdjust="spacingAndGlyphs">50 %</text>
<rect x="20.8" y="163.2" width="14.2" height="8.4" fill="#6aa9e0"/>
<text x="38.6" y="170.3" font-size="9.4" fill="#111" stroke="#111" stroke-width="0.12" transform="rotate(0.03 38.6 170.3)" textLength="142.8" lengthAdjust="spacingAndGlyphs">DLBCL; n=22; 5.8 alterations/case</text>
<rect x="49.6" y="316.4" width="36.9" height="111.4" fill="#f1f1f1"/>
<rect x="86.5" y="316.4" width="36.2" height="111.4" fill="#d9d9d9"/>
<rect x="122.7" y="316.4" width="29.8" height="111.4" fill="#f1f1f1"/>
<rect x="152.5" y="316.4" width="28.5" height="111.4" fill="#d9d9d9"/>
<rect x="181" y="316.4" width="26.5" height="111.4" fill="#f1f1f1"/>
<rect x="207.5" y="316.4" width="25.5" height="111.4" fill="#d9d9d9"/>
<rect x="233" y="316.4" width="23.5" height="111.4" fill="#f1f1f1"/>
<rect x="256.5" y="316.4" width="22" height="111.4" fill="#d9d9d9"/>
<rect x="278.5" y="316.4" width="21" height="111.4" fill="#f1f1f1"/>
<rect x="299.5" y="316.4" width="20" height="111.4" fill="#d9d9d9"/>
<rect x="319.5" y="316.4" width="20.5" height="111.4" fill="#f1f1f1"/>
<rect x="340" y="316.4" width="19.7" height="111.4" fill="#d9d9d9"/>
<rect x="359.7" y="316.4" width="17.3" height="111.4" fill="#d9d9d9"/>
<rect x="377" y="316.4" width="16" height="111.4" fill="#d9d9d9"/>
<rect x="393" y="316.4" width="15.5" height="111.4" fill="#f1f1f1"/>
<rect x="408.5" y="316.4" width="13" height="111.4" fill="#d9d9d9"/>
<rect x="421.5" y="316.4" width="11.9" height="111.4" fill="#f1f1f1"/>
<rect x="433.4" y="316.4" width="12.2" height="111.4" fill="#d9d9d9"/>
<rect x="445.6" y="316.4" width="8.9" height="111.4" fill="#f1f1f1"/>
<rect x="454.5" y="316.4" width="9" height="111.4" fill="#d9d9d9"/>
<rect x="463.5" y="316.4" width="7.8" height="111.4" fill="#f1f1f1"/>
<rect x="471.3" y="316.4" width="7.2" height="111.4" fill="#d9d9d9"/>
<rect x="478.5" y="316.4" width="23.5" height="111.4" fill="#f1f1f1"/>
<rect x="502" y="316.4" width="8.6" height="111.4" fill="#d9d9d9"/>
<line x1="49.6" y1="321.53" x2="510.6" y2="321.53" stroke="#ffffff" stroke-width="1" stroke-opacity="0.5"/>
<line x1="49.6" y1="331.75" x2="510.6" y2="331.75" stroke="#ffffff" stroke-width="1" stroke-opacity="0.5"/>
<line x1="49.6" y1="341.97" x2="510.6" y2="341.97" stroke="#ffffff" stroke-width="1" stroke-opacity="0.5"/>
<line x1="49.6" y1="352.19" x2="510.6" y2="352.19" stroke="#ffffff" stroke-width="1" stroke-opacity="0.5"/>
<line x1="49.6" y1="362.41" x2="510.6" y2="362.41" stroke="#ffffff" stroke-width="1" stroke-opacity="0.5"/>
<line x1="49.6" y1="372.63" x2="510.6" y2="372.63" stroke="#ffffff" stroke-width="1" stroke-opacity="0.5"/>
<line x1="49.6" y1="382.85" x2="510.6" y2="382.85" stroke="#ffffff" stroke-width="1" stroke-opacity="0.5"/>
<line x1="49.6" y1="393.07" x2="510.6" y2="393.07" stroke="#ffffff" stroke-width="1" stroke-opacity="0.5"/>
<line x1="49.6" y1="403.29" x2="510.6" y2="403.29" stroke="#ffffff" stroke-width="1" stroke-opacity="0.5"/>
<line x1="49.6" y1="413.51" x2="510.6" y2="413.51" stroke="#ffffff" stroke-width="1" stroke-opacity="0.5"/>
<line x1="49.6" y1="423.73" x2="510.6" y2="423.73" stroke="#ffffff" stroke-width="1" stroke-opacity="0.5"/>
<path d="M71.1 382.95V353.81H79.9V368.38H81.8V382.95Z M113.2 382.95V368.38H116.3V382.95Z M181.1 382.95V368.38H216.8V382.95Z M233.9 382.95V339.24H256.6V382.95Z M340.1 382.95V368.38H343.6V339.24H352V353.81H354V368.38H355.4V353.81H357V368.38H358.7V353.81H360V382.95Z M368.4 382.95V368.38H370.5V382.95Z M465.5 382.95V368.38H470.7V382.95Z" fill="#6aa9e0"/>
<rect x="77.3" y="339.24" width="1.5" height="14.57" fill="#6aa9e0" fill-opacity="0.85"/>
<rect x="106.1" y="368.38" width="1.8" height="14.57" fill="#6aa9e0" fill-opacity="0.85"/>
<rect x="117.6" y="368.38" width="1.5" height="14.57" fill="#6aa9e0" fill-opacity="0.7"/>
<rect x="211.9" y="353.81" width="1.2" height="14.57" fill="#6aa9e0" fill-opacity="0.7"/>
<rect x="220" y="368.38" width="1.8" height="14.57" fill="#6aa9e0" fill-opacity="0.8"/>
<rect x="246" y="324.66" width="1.4" height="14.57" fill="#6aa9e0" fill-opacity="0.85"/>
<rect x="275.2" y="368.38" width="1.5" height="14.57" fill="#6aa9e0" fill-opacity="0.35"/>
<rect x="354" y="353.81" width="1.4" height="14.57" fill="#6aa9e0" fill-opacity="0.6"/>
<rect x="357" y="353.81" width="1.7" height="14.57" fill="#6aa9e0" fill-opacity="0.15"/>
<rect x="369.3" y="353.81" width="1.2" height="14.57" fill="#6aa9e0" fill-opacity="0.9"/>
<rect x="445.6" y="368.38" width="0.9" height="14.57" fill="#6aa9e0" fill-opacity="0.3"/>
<path d="M178.8 382.95V397.52H180.8V382.95Z M216.3 382.95V397.52H232.9V382.95Z M265.2 382.95V397.52H267.9V382.95Z M340.1 382.95V397.52H341.7V382.95Z M342.6 382.95V397.52H343.9V382.95Z M352.4 382.95V397.52H354.5V382.95Z M458.1 382.95V397.52H460.7V382.95Z M477 382.95V397.52H501.8V382.95Z" fill="#a50027"/>
<rect x="52.2" y="382.95" width="1.6" height="14.57" fill="#a50027" fill-opacity="0.6"/>
<rect x="66.2" y="382.95" width="1.5" height="14.57" fill="#a50027" fill-opacity="0.85"/>
<rect x="139.2" y="382.95" width="1.8" height="14.57" fill="#a50027" fill-opacity="0.55"/>
<rect x="275.2" y="382.95" width="1.5" height="14.57" fill="#a50027" fill-opacity="0.5"/>
<rect x="281.3" y="382.95" width="1.5" height="29.14" fill="#a50027" fill-opacity="0.4"/>
<rect x="325.8" y="382.95" width="1.2" height="14.57" fill="#a50027" fill-opacity="0.5"/>
<rect x="341.7" y="382.95" width="0.9" height="14.57" fill="#a50027" fill-opacity="0.5"/>
<rect x="366.2" y="382.95" width="1.5" height="14.57" fill="#a50027" fill-opacity="0.95"/>
<rect x="430.1" y="382.95" width="1.9" height="14.57" fill="#a50027" fill-opacity="0.55"/>
<line x1="86.5" y1="316.4" x2="86.5" y2="427.8" stroke="#4d4d4d" stroke-width="1.1"/>
<line x1="122.7" y1="316.4" x2="122.7" y2="427.8" stroke="#4d4d4d" stroke-width="1.1"/>
<line x1="152.5" y1="316.4" x2="152.5" y2="427.8" stroke="#4d4d4d" stroke-width="1.1"/>
<line x1="181" y1="316.4" x2="181" y2="427.8" stroke="#4d4d4d" stroke-width="1.1"/>
<line x1="207.5" y1="316.4" x2="207.5" y2="427.8" stroke="#4d4d4d" stroke-width="1.1"/>
<line x1="233" y1="316.4" x2="233" y2="427.8" stroke="#4d4d4d" stroke-width="1.1"/>
<line x1="256.5" y1="316.4" x2="256.5" y2="427.8" stroke="#4d4d4d" stroke-width="1.1"/>
<line x1="278.5" y1="316.4" x2="278.5" y2="427.8" stroke="#4d4d4d" stroke-width="1.1"/>
<line x1="299.5" y1="316.4" x2="299.5" y2="427.8" stroke="#4d4d4d" stroke-width="1.1"/>
<line x1="319.5" y1="316.4" x2="319.5" y2="427.8" stroke="#4d4d4d" stroke-width="1.1"/>
<line x1="340" y1="316.4" x2="340" y2="427.8" stroke="#4d4d4d" stroke-width="1.1"/>
<line x1="359.7" y1="316.4" x2="359.7" y2="427.8" stroke="#4d4d4d" stroke-width="1.1"/>
<line x1="377" y1="316.4" x2="377" y2="427.8" stroke="#4d4d4d" stroke-width="1.1"/>
<line x1="393" y1="316.4" x2="393" y2="427.8" stroke="#4d4d4d" stroke-width="1.1"/>
<line x1="408.5" y1="316.4" x2="408.5" y2="427.8" stroke="#4d4d4d" stroke-width="1.1"/>
<line x1="421.5" y1="316.4" x2="421.5" y2="427.8" stroke="#4d4d4d" stroke-width="1.1"/>
<line x1="433.4" y1="316.4" x2="433.4" y2="427.8" stroke="#4d4d4d" stroke-width="1.1"/>
<line x1="445.6" y1="316.4" x2="445.6" y2="427.8" stroke="#4d4d4d" stroke-width="1.1"/>
<line x1="454.5" y1="316.4" x2="454.5" y2="427.8" stroke="#4d4d4d" stroke-width="1.1"/>
<line x1="463.5" y1="316.4" x2="463.5" y2="427.8" stroke="#4d4d4d" stroke-width="1.1"/>
<line x1="471.3" y1="316.4" x2="471.3" y2="427.8" stroke="#4d4d4d" stroke-width="1.1"/>
<line x1="478.5" y1="316.4" x2="478.5" y2="427.8" stroke="#4d4d4d" stroke-width="1.1"/>
<line x1="502" y1="316.4" x2="502" y2="427.8" stroke="#4d4d4d" stroke-width="1.1"/>
<line x1="68.1" y1="317.1" x2="68.1" y2="427.8" stroke="#1a1a1a" stroke-width="1" stroke-dasharray="3.5 2.7" stroke-opacity="0.9"/>
<line x1="100.4" y1="317.1" x2="100.4" y2="427.8" stroke="#1a1a1a" stroke-width="1" stroke-dasharray="3.5 2.7" stroke-opacity="0.9"/>
<line x1="136.4" y1="317.1" x2="136.4" y2="427.8" stroke="#1a1a1a" stroke-width="1" stroke-dasharray="3.5 2.7" stroke-opacity="0.9"/>
<line x1="159.45" y1="317.1" x2="159.45" y2="427.8" stroke="#1a1a1a" stroke-width="1" stroke-dasharray="3.5 2.7" stroke-opacity="0.9"/>
<line x1="187.85" y1="317.1" x2="187.85" y2="427.8" stroke="#1a1a1a" stroke-width="1" stroke-dasharray="3.5 2.7" stroke-opacity="0.9"/>
<line x1="216.8" y1="317.1" x2="216.8" y2="427.8" stroke="#1a1a1a" stroke-width="1" stroke-dasharray="3.5 2.7" stroke-opacity="0.9"/>
<line x1="241.9" y1="317.1" x2="241.9" y2="427.8" stroke="#1a1a1a" stroke-width="1" stroke-dasharray="3.5 2.7" stroke-opacity="0.9"/>
<line x1="263.3" y1="317.1" x2="263.3" y2="427.8" stroke="#1a1a1a" stroke-width="1" stroke-dasharray="3.5 2.7" stroke-opacity="0.9"/>
<line x1="285.9" y1="317.1" x2="285.9" y2="427.8" stroke="#1a1a1a" stroke-width="1" stroke-dasharray="3.5 2.7" stroke-opacity="0.9"/>
<line x1="305.4" y1="317.1" x2="305.4" y2="427.8" stroke="#1a1a1a" stroke-width="1" stroke-dasharray="3.5 2.7" stroke-opacity="0.9"/>
<line x1="327.9" y1="317.1" x2="327.9" y2="427.8" stroke="#1a1a1a" stroke-width="1" stroke-dasharray="3.5 2.7" stroke-opacity="0.9"/>
<line x1="345.3" y1="317.1" x2="345.3" y2="427.8" stroke="#1a1a1a" stroke-width="1" stroke-dasharray="3.5 2.7" stroke-opacity="0.9"/>
<line x1="362.4" y1="317.1" x2="362.4" y2="427.8" stroke="#1a1a1a" stroke-width="1" stroke-dasharray="3.5 2.7" stroke-opacity="0.9"/>
<line x1="379.5" y1="317.1" x2="379.5" y2="427.8" stroke="#1a1a1a" stroke-width="1" stroke-dasharray="3.5 2.7" stroke-opacity="0.9"/>
<line x1="395.9" y1="317.1" x2="395.9" y2="427.8" stroke="#1a1a1a" stroke-width="1" stroke-dasharray="3.5 2.7" stroke-opacity="0.9"/>
<line x1="413.5" y1="317.1" x2="413.5" y2="427.8" stroke="#1a1a1a" stroke-width="1" stroke-dasharray="3.5 2.7" stroke-opacity="0.9"/>
<line x1="425.3" y1="317.1" x2="425.3" y2="427.8" stroke="#1a1a1a" stroke-width="1" stroke-dasharray="3.5 2.7" stroke-opacity="0.9"/>
<line x1="436.4" y1="317.1" x2="436.4" y2="427.8" stroke="#1a1a1a" stroke-width="1" stroke-dasharray="3.5 2.7" stroke-opacity="0.9"/>
<line x1="449.35" y1="317.1" x2="449.35" y2="427.8" stroke="#1a1a1a" stroke-width="1" stroke-dasharray="3.5 2.7" stroke-opacity="0.9"/>
<line x1="458.4" y1="317.1" x2="458.4" y2="427.8" stroke="#1a1a1a" stroke-width="1" stroke-dasharray="3.5 2.7" stroke-opacity="0.9"/>
<line x1="465.5" y1="317.1" x2="465.5" y2="427.8" stroke="#1a1a1a" stroke-width="1" stroke-dasharray="3.5 2.7" stroke-opacity="0.9"/>
<line x1="473.2" y1="317.1" x2="473.2" y2="427.8" stroke="#1a1a1a" stroke-width="1" stroke-dasharray="3.5 2.7" stroke-opacity="0.9"/>
<line x1="487.4" y1="317.1" x2="487.4" y2="427.8" stroke="#1a1a1a" stroke-width="1" stroke-dasharray="3.5 2.7" stroke-opacity="0.9"/>
<line x1="503.8" y1="317.1" x2="503.8" y2="427.8" stroke="#1a1a1a" stroke-width="1" stroke-dasharray="3.5 2.7" stroke-opacity="0.9"/>
<line x1="49.6" y1="382.85" x2="510.6" y2="382.85" stroke="#222222" stroke-width="0.8"/>
<text x="84.4" y="352.5" font-size="10" fill="#6aa9e0" stroke="#6aa9e0" stroke-width="0.1" transform="rotate(-25 84.4 352.5)" textLength="63.05" lengthAdjust="spacingAndGlyphs">G1q21.1-q32.1</text>
<text x="168.3" y="352.5" font-size="10" fill="#6aa9e0" stroke="#6aa9e0" stroke-width="0.1" transform="rotate(-25 168.3 352.5)" textLength="41.29" lengthAdjust="spacingAndGlyphs">G5p15.33</text>
<text x="197" y="355" font-size="10" fill="#6aa9e0" stroke="#6aa9e0" stroke-width="0.1" transform="rotate(-25 197 355)" textLength="41.29" lengthAdjust="spacingAndGlyphs">G6p21.32</text>
<text x="254.7" y="334" font-size="10" fill="#6aa9e0" stroke="#6aa9e0" stroke-width="0.1" transform="rotate(-25 254.7 334)" textLength="15.67" lengthAdjust="spacingAndGlyphs">Tri7</text>
<text x="278.3" y="423.8" font-size="10" fill="#a50027" stroke="#a50027" stroke-width="0.1" transform="rotate(-25 278.3 423.8)" textLength="34.92" lengthAdjust="spacingAndGlyphs">L9p21.3</text>
<text x="358" y="348" font-size="10" fill="#6aa9e0" stroke="#6aa9e0" stroke-width="0.1" transform="rotate(-25 358 348)" textLength="63.3" lengthAdjust="spacingAndGlyphs">G12p12.3-q22</text>
<text x="374.5" y="356.5" font-size="10" fill="#6aa9e0" stroke="#6aa9e0" stroke-width="0.1" transform="rotate(-25 374.5 356.5)" textLength="78.73" lengthAdjust="spacingAndGlyphs">G13q21.31-q21.33</text>
<line x1="46.15" y1="316.1" x2="46.15" y2="427.8" stroke="#0a0a0a" stroke-width="1.45"/>
<line x1="42.7" y1="321.53" x2="46.15" y2="321.53" stroke="#000000" stroke-width="1.05"/>
<text x="38.9" y="324.63" font-size="9.4" fill="#111" stroke="#111" stroke-width="0.18" text-anchor="end" transform="rotate(0.03 38.9 324.63)" textLength="20.78" lengthAdjust="spacingAndGlyphs">60 %</text>
<line x1="42.7" y1="331.75" x2="46.15" y2="331.75" stroke="#000000" stroke-width="1.05"/>
<text x="38.9" y="334.85" font-size="9.4" fill="#111" stroke="#111" stroke-width="0.18" text-anchor="end" transform="rotate(0.03 38.9 334.85)" textLength="20.78" lengthAdjust="spacingAndGlyphs">50 %</text>
<line x1="42.7" y1="341.97" x2="46.15" y2="341.97" stroke="#000000" stroke-width="1.05"/>
<text x="38.9" y="345.07" font-size="9.4" fill="#111" stroke="#111" stroke-width="0.18" text-anchor="end" transform="rotate(0.03 38.9 345.07)" textLength="20.78" lengthAdjust="spacingAndGlyphs">40 %</text>
<line x1="42.7" y1="352.19" x2="46.15" y2="352.19" stroke="#000000" stroke-width="1.05"/>
<text x="38.9" y="355.29" font-size="9.4" fill="#111" stroke="#111" stroke-width="0.18" text-anchor="end" transform="rotate(0.03 38.9 355.29)" textLength="20.78" lengthAdjust="spacingAndGlyphs">30 %</text>
<line x1="42.7" y1="362.41" x2="46.15" y2="362.41" stroke="#000000" stroke-width="1.05"/>
<text x="38.9" y="365.51" font-size="9.4" fill="#111" stroke="#111" stroke-width="0.18" text-anchor="end" transform="rotate(0.03 38.9 365.51)" textLength="20.78" lengthAdjust="spacingAndGlyphs">20 %</text>
<line x1="42.7" y1="372.63" x2="46.15" y2="372.63" stroke="#000000" stroke-width="1.05"/>
<text x="38.9" y="375.73" font-size="9.4" fill="#111" stroke="#111" stroke-width="0.18" text-anchor="end" transform="rotate(0.03 38.9 375.73)" textLength="20.78" lengthAdjust="spacingAndGlyphs">10 %</text>
<line x1="42.7" y1="382.85" x2="46.15" y2="382.85" stroke="#000000" stroke-width="1.05"/>
<text x="38.9" y="385.95" font-size="9.4" fill="#111" stroke="#111" stroke-width="0.18" text-anchor="end" transform="rotate(0.03 38.9 385.95)" textLength="15.71" lengthAdjust="spacingAndGlyphs">0 %</text>
<line x1="42.7" y1="393.07" x2="46.15" y2="393.07" stroke="#000000" stroke-width="1.05"/>
<text x="38.9" y="396.17" font-size="9.4" fill="#111" stroke="#111" stroke-width="0.18" text-anchor="end" transform="rotate(0.03 38.9 396.17)" textLength="20.78" lengthAdjust="spacingAndGlyphs">10 %</text>
<line x1="42.7" y1="403.29" x2="46.15" y2="403.29" stroke="#000000" stroke-width="1.05"/>
<text x="38.9" y="406.39" font-size="9.4" fill="#111" stroke="#111" stroke-width="0.18" text-anchor="end" transform="rotate(0.03 38.9 406.39)" textLength="20.78" lengthAdjust="spacingAndGlyphs">20 %</text>
<line x1="42.7" y1="413.51" x2="46.15" y2="413.51" stroke="#000000" stroke-width="1.05"/>
<text x="38.9" y="416.61" font-size="9.4" fill="#111" stroke="#111" stroke-width="0.18" text-anchor="end" transform="rotate(0.03 38.9 416.61)" textLength="20.78" lengthAdjust="spacingAndGlyphs">30 %</text>
<line x1="42.7" y1="423.73" x2="46.15" y2="423.73" stroke="#000000" stroke-width="1.05"/>
<text x="38.9" y="426.83" font-size="9.4" fill="#111" stroke="#111" stroke-width="0.18" text-anchor="end" transform="rotate(0.03 38.9 426.83)" textLength="20.78" lengthAdjust="spacingAndGlyphs">40 %</text>
<rect x="20.8" y="302.5" width="14.2" height="8.4" fill="#e8b820"/>
<text x="38.6" y="309.6" font-size="9.4" fill="#111" stroke="#111" stroke-width="0.12" transform="rotate(0.03 38.6 309.6)" textLength="165.4" lengthAdjust="spacingAndGlyphs">HGBCL, NOS; n=7; 7.1 alterations/case</text>
<text x="68.35" y="449.6" font-size="9.4" fill="#111" stroke="#111" stroke-width="0.18" text-anchor="middle" transform="rotate(0.03 68.35 449.6)" textLength="4.91" lengthAdjust="spacingAndGlyphs">1</text>
<text x="104.9" y="439.4" font-size="9.4" fill="#111" stroke="#111" stroke-width="0.18" text-anchor="middle" transform="rotate(0.03 104.9 439.4)" textLength="4.91" lengthAdjust="spacingAndGlyphs">2</text>
<text x="137.9" y="449.6" font-size="9.4" fill="#111" stroke="#111" stroke-width="0.18" text-anchor="middle" transform="rotate(0.03 137.9 449.6)" textLength="4.91" lengthAdjust="spacingAndGlyphs">3</text>
<text x="167.05" y="439.4" font-size="9.4" fill="#111" stroke="#111" stroke-width="0.18" text-anchor="middle" transform="rotate(0.03 167.05 439.4)" textLength="4.91" lengthAdjust="spacingAndGlyphs">4</text>
<text x="194.55" y="449.6" font-size="9.4" fill="#111" stroke="#111" stroke-width="0.18" text-anchor="middle" transform="rotate(0.03 194.55 449.6)" textLength="4.91" lengthAdjust="spacingAndGlyphs">5</text>
<text x="220.55" y="439.4" font-size="9.4" fill="#111" stroke="#111" stroke-width="0.18" text-anchor="middle" transform="rotate(0.03 220.55 439.4)" textLength="4.91" lengthAdjust="spacingAndGlyphs">6</text>
<text x="245.05" y="449.6" font-size="9.4" fill="#111" stroke="#111" stroke-width="0.18" text-anchor="middle" transform="rotate(0.03 245.05 449.6)" textLength="4.91" lengthAdjust="spacingAndGlyphs">7</text>
<text x="267.8" y="439.4" font-size="9.4" fill="#111" stroke="#111" stroke-width="0.18" text-anchor="middle" transform="rotate(0.03 267.8 439.4)" textLength="4.91" lengthAdjust="spacingAndGlyphs">8</text>
<text x="289.3" y="449.6" font-size="9.4" fill="#111" stroke="#111" stroke-width="0.18" text-anchor="middle" transform="rotate(0.03 289.3 449.6)" textLength="4.91" lengthAdjust="spacingAndGlyphs">9</text>
<text x="309.8" y="439.4" font-size="9.4" fill="#111" stroke="#111" stroke-width="0.18" text-anchor="middle" transform="rotate(0.03 309.8 439.4)" textLength="9.83" lengthAdjust="spacingAndGlyphs">10</text>
<text x="330.05" y="449.6" font-size="9.4" fill="#111" stroke="#111" stroke-width="0.18" text-anchor="middle" transform="rotate(0.03 330.05 449.6)" textLength="9.17" lengthAdjust="spacingAndGlyphs">11</text>
<text x="350.15" y="439.4" font-size="9.4" fill="#111" stroke="#111" stroke-width="0.18" text-anchor="middle" transform="rotate(0.03 350.15 439.4)" textLength="9.83" lengthAdjust="spacingAndGlyphs">12</text>
<text x="368.65" y="449.6" font-size="9.4" fill="#111" stroke="#111" stroke-width="0.18" text-anchor="middle" transform="rotate(0.03 368.65 449.6)" textLength="9.83" lengthAdjust="spacingAndGlyphs">13</text>
<text x="385.3" y="439.4" font-size="9.4" fill="#111" stroke="#111" stroke-width="0.18" text-anchor="middle" transform="rotate(0.03 385.3 439.4)" textLength="9.83" lengthAdjust="spacingAndGlyphs">14</text>
<text x="401.05" y="449.6" font-size="9.4" fill="#111" stroke="#111" stroke-width="0.18" text-anchor="middle" transform="rotate(0.03 401.05 449.6)" textLength="9.83" lengthAdjust="spacingAndGlyphs">15</text>
<text x="415.3" y="439.4" font-size="9.4" fill="#111" stroke="#111" stroke-width="0.18" text-anchor="middle" transform="rotate(0.03 415.3 439.4)" textLength="9.83" lengthAdjust="spacingAndGlyphs">16</text>
<text x="427.75" y="449.6" font-size="9.4" fill="#111" stroke="#111" stroke-width="0.18" text-anchor="middle" transform="rotate(0.03 427.75 449.6)" textLength="9.83" lengthAdjust="spacingAndGlyphs">17</text>
<text x="439.8" y="439.4" font-size="9.4" fill="#111" stroke="#111" stroke-width="0.18" text-anchor="middle" transform="rotate(0.03 439.8 439.4)" textLength="9.83" lengthAdjust="spacingAndGlyphs">18</text>
<text x="450.35" y="449.6" font-size="9.4" fill="#111" stroke="#111" stroke-width="0.18" text-anchor="middle" transform="rotate(0.03 450.35 449.6)" textLength="9.83" lengthAdjust="spacingAndGlyphs">19</text>
<text x="459.3" y="439.4" font-size="9.4" fill="#111" stroke="#111" stroke-width="0.18" text-anchor="middle" transform="rotate(0.03 459.3 439.4)" textLength="9.83" lengthAdjust="spacingAndGlyphs">20</text>
<text x="467.7" y="449.6" font-size="9.4" fill="#111" stroke="#111" stroke-width="0.18" text-anchor="middle" transform="rotate(0.03 467.7 449.6)" textLength="9.83" lengthAdjust="spacingAndGlyphs">21</text>
<text x="475.2" y="439.4" font-size="9.4" fill="#111" stroke="#111" stroke-width="0.18" text-anchor="middle" transform="rotate(0.03 475.2 439.4)" textLength="9.83" lengthAdjust="spacingAndGlyphs">22</text>
<text x="490.55" y="449.6" font-size="9.4" fill="#111" stroke="#111" stroke-width="0.18" text-anchor="middle" transform="rotate(0.03 490.55 449.6)" textLength="5.89" lengthAdjust="spacingAndGlyphs">X</text>
<text x="506.6" y="439.4" font-size="9.4" fill="#111" stroke="#111" stroke-width="0.18" text-anchor="middle" transform="rotate(0.03 506.6 439.4)" textLength="5.89" lengthAdjust="spacingAndGlyphs">Y</text>
<rect x="49.7" y="486.5" width="37.1" height="62.4" fill="#f1f1f1"/>
<rect x="86.8" y="486.5" width="36.4" height="62.4" fill="#d9d9d9"/>
<rect x="123.2" y="486.5" width="29.3" height="62.4" fill="#f1f1f1"/>
<rect x="152.5" y="486.5" width="29.07" height="62.4" fill="#d9d9d9"/>
<rect x="181.57" y="486.5" width="26.78" height="62.4" fill="#f1f1f1"/>
<rect x="208.35" y="486.5" width="25.15" height="62.4" fill="#d9d9d9"/>
<rect x="233.5" y="486.5" width="24.1" height="62.4" fill="#f1f1f1"/>
<rect x="257.6" y="486.5" width="21.8" height="62.4" fill="#d9d9d9"/>
<rect x="279.4" y="486.5" width="21.2" height="62.4" fill="#f1f1f1"/>
<rect x="300.6" y="486.5" width="20.1" height="62.4" fill="#d9d9d9"/>
<rect x="320.7" y="486.5" width="20.2" height="62.4" fill="#f1f1f1"/>
<rect x="340.9" y="486.5" width="20.1" height="62.4" fill="#d9d9d9"/>
<rect x="361" y="486.5" width="16.95" height="62.4" fill="#f1f1f1"/>
<rect x="377.95" y="486.5" width="16.25" height="62.4" fill="#d9d9d9"/>
<rect x="394.2" y="486.5" width="15.2" height="62.4" fill="#f1f1f1"/>
<rect x="409.4" y="486.5" width="13.3" height="62.4" fill="#d9d9d9"/>
<rect x="422.7" y="486.5" width="12.4" height="62.4" fill="#f1f1f1"/>
<rect x="435.1" y="486.5" width="11.4" height="62.4" fill="#d9d9d9"/>
<rect x="446.5" y="486.5" width="8.85" height="62.4" fill="#f1f1f1"/>
<rect x="455.35" y="486.5" width="9.35" height="62.4" fill="#d9d9d9"/>
<rect x="464.7" y="486.5" width="7.5" height="62.4" fill="#f1f1f1"/>
<rect x="472.2" y="486.5" width="7.1" height="62.4" fill="#d9d9d9"/>
<rect x="479.3" y="486.5" width="23.5" height="62.4" fill="#f1f1f1"/>
<rect x="502.8" y="486.5" width="9" height="62.4" fill="#d9d9d9"/>
<line x1="49.7" y1="500.25" x2="511.8" y2="500.25" stroke="#ffffff" stroke-width="1" stroke-opacity="0.5"/>
<line x1="49.7" y1="514" x2="511.8" y2="514" stroke="#ffffff" stroke-width="1" stroke-opacity="0.5"/>
<line x1="49.7" y1="527.75" x2="511.8" y2="527.75" stroke="#ffffff" stroke-width="1" stroke-opacity="0.5"/>
<line x1="49.7" y1="541.5" x2="511.8" y2="541.5" stroke="#ffffff" stroke-width="1" stroke-opacity="0.5"/>
<rect x="81.9" y="486.5" width="4.9" height="19.64" fill="#ffffff" fill-opacity="0.3"/>
<rect x="123.2" y="486.5" width="8.8" height="19.64" fill="#ffffff" fill-opacity="0.3"/>
<rect x="138.3" y="486.5" width="13.8" height="6.25" fill="#ffffff" fill-opacity="0.3"/>
<rect x="202.1" y="486.5" width="6.25" height="6.25" fill="#ffffff" fill-opacity="0.3"/>
<rect x="208.35" y="486.5" width="7.65" height="19.64" fill="#ffffff" fill-opacity="0.3"/>
<rect x="233.5" y="486.5" width="6.5" height="13.75" fill="#ffffff" fill-opacity="0.3"/>
<rect x="240" y="486.5" width="3" height="6.88" fill="#ffffff" fill-opacity="0.3"/>
<rect x="279.4" y="486.5" width="5.5" height="39.29" fill="#ffffff" fill-opacity="0.3"/>
<rect x="329.5" y="486.5" width="11" height="6.25" fill="#ffffff" fill-opacity="0.3"/>
<rect x="363.5" y="486.5" width="14.1" height="6.25" fill="#ffffff" fill-opacity="0.3"/>
<rect x="399.6" y="486.5" width="9.4" height="6.25" fill="#ffffff" fill-opacity="0.3"/>
<rect x="416" y="486.5" width="8.7" height="6.25" fill="#ffffff" fill-opacity="0.3"/>
<rect x="422.7" y="486.5" width="3.2" height="19.64" fill="#ffffff" fill-opacity="0.3"/>
<rect x="428.5" y="486.5" width="6.5" height="19.64" fill="#ffffff" fill-opacity="0.3"/>
<rect x="430.1" y="486.5" width="4.5" height="25" fill="#ffffff" fill-opacity="0.3"/>
<rect x="446.8" y="486.5" width="8.5" height="6.88" fill="#ffffff" fill-opacity="0.3"/>
<path d="M81.9 486.5 L81.9 506.14 L86.8 506.14 L86.8 486.5" fill="none" stroke="#e8b820" stroke-width="1.1"/>
<path d="M123.2 486.5 L123.2 506.14 L132 506.14 L132 486.5" fill="none" stroke="#e8b820" stroke-width="1.1"/>
<path d="M208.35 486.5 L208.35 506.14 L216 506.14 L216 486.5" fill="none" stroke="#e8b820" stroke-width="1.1"/>
<path d="M233.5 487.32 L241.9 487.32" fill="none" stroke="#e8b820" stroke-width="0.9"/>
<path d="M279.4 486.5 L279.4 525.79 L284.9 525.79 L284.9 486.5" fill="none" stroke="#e8b820" stroke-width="1.1"/>
<path d="M422.7 486.5 L422.7 506.14 L425.9 506.14 L425.9 486.5" fill="none" stroke="#e8b820" stroke-width="1.1"/>
<path d="M428.6 486.5 L428.6 506.14 L435 506.14 L435 486.5" fill="none" stroke="#e8b820" stroke-width="1.3"/>
<path d="M446.8 487.32 L455 487.32" fill="none" stroke="#e8b820" stroke-width="0.9"/>
<path d="M479.3 486.5 L479.3 506.14" fill="none" stroke="#e8b820" stroke-width="1.3"/>
<path d="M123.9 499 L130.7 499 L130.7 506.14" fill="none" stroke="#6aa9e0" stroke-width="1.1"/>
<path d="M138.3 486.5 L138.3 492.75 L151.4 492.75 L151.4 499" fill="none" stroke="#6aa9e0" stroke-width="1.1"/>
<path d="M202.1 486.5 L202.1 492.75 L208.35 492.75" fill="none" stroke="#6aa9e0" stroke-width="1.1"/>
<path d="M208.35 499 L214.5 499 L214.5 486.5" fill="none" stroke="#6aa9e0" stroke-width="1.1"/>
<path d="M270.85 486.5 L270.85 492.75" fill="none" stroke="#6aa9e0" stroke-width="1.6"/>
<path d="M279.9 492.75 L283.7 492.75 L283.7 499" fill="none" stroke="#6aa9e0" stroke-width="1.1"/>
<path d="M329.5 486.5 L329.5 492.75 L340.5 492.75 L340.5 486.5" fill="none" stroke="#6aa9e0" stroke-width="1.1"/>
<path d="M363.5 486.5 L363.5 492.75 L377.6 492.75 L377.6 486.5" fill="none" stroke="#6aa9e0" stroke-width="1.1"/>
<path d="M399.6 486.5 L399.6 492.75 L408.5 492.75 L408.5 499" fill="none" stroke="#6aa9e0" stroke-width="1.1"/>
<path d="M416 486.5 L416 492.75 L424.7 492.75 L424.7 486.5" fill="none" stroke="#6aa9e0" stroke-width="1.1"/>
<path d="M430.1 506.14 L430.1 511.5 L434.5 511.5 L434.5 506.14" fill="none" stroke="#6aa9e0" stroke-width="1.1"/>
<path d="M447.6 486.5 L447.6 524" fill="none" stroke="#6aa9e0" stroke-width="1.4"/>
<path d="M57.4 486.5 L57.4 493.38" fill="none" stroke="#68a743" stroke-width="1.5"/>
<path d="M208.35 493.38 L214 493.38 L214 486.5" fill="none" stroke="#68a743" stroke-width="1.1"/>
<path d="M233.5 486.5 L233.5 500.25 L240.05 500.25 L240.05 493.38 L243 493.38 L243 486.5" fill="none" stroke="#68a743" stroke-width="1.1"/>
<path d="M427 493.38 L434.9 493.38" fill="none" stroke="#68a743" stroke-width="1.1"/>
<path d="M446.8 486.5 L446.8 493.38 L455.3 493.38 L455.3 486.5" fill="none" stroke="#68a743" stroke-width="1.1"/>
<line x1="86.8" y1="486.5" x2="86.8" y2="548.9" stroke="#4d4d4d" stroke-width="1.1"/>
<line x1="123.2" y1="486.5" x2="123.2" y2="548.9" stroke="#4d4d4d" stroke-width="1.1"/>
<line x1="152.5" y1="486.5" x2="152.5" y2="548.9" stroke="#4d4d4d" stroke-width="1.1"/>
<line x1="181.57" y1="486.5" x2="181.57" y2="548.9" stroke="#4d4d4d" stroke-width="1.1"/>
<line x1="208.35" y1="486.5" x2="208.35" y2="548.9" stroke="#4d4d4d" stroke-width="1.1"/>
<line x1="233.5" y1="486.5" x2="233.5" y2="548.9" stroke="#4d4d4d" stroke-width="1.1"/>
<line x1="257.6" y1="486.5" x2="257.6" y2="548.9" stroke="#4d4d4d" stroke-width="1.1"/>
<line x1="279.4" y1="486.5" x2="279.4" y2="548.9" stroke="#4d4d4d" stroke-width="1.1"/>
<line x1="300.6" y1="486.5" x2="300.6" y2="548.9" stroke="#4d4d4d" stroke-width="1.1"/>
<line x1="320.7" y1="486.5" x2="320.7" y2="548.9" stroke="#4d4d4d" stroke-width="1.1"/>
<line x1="340.9" y1="486.5" x2="340.9" y2="548.9" stroke="#4d4d4d" stroke-width="1.1"/>
<line x1="361" y1="486.5" x2="361" y2="548.9" stroke="#4d4d4d" stroke-width="1.1"/>
<line x1="377.95" y1="486.5" x2="377.95" y2="548.9" stroke="#4d4d4d" stroke-width="1.1"/>
<line x1="394.2" y1="486.5" x2="394.2" y2="548.9" stroke="#4d4d4d" stroke-width="1.1"/>
<line x1="409.4" y1="486.5" x2="409.4" y2="548.9" stroke="#4d4d4d" stroke-width="1.1"/>
<line x1="422.7" y1="486.5" x2="422.7" y2="548.9" stroke="#4d4d4d" stroke-width="1.1"/>
<line x1="435.1" y1="486.5" x2="435.1" y2="548.9" stroke="#4d4d4d" stroke-width="1.1"/>
<line x1="446.5" y1="486.5" x2="446.5" y2="548.9" stroke="#4d4d4d" stroke-width="1.1"/>
<line x1="455.35" y1="486.5" x2="455.35" y2="548.9" stroke="#4d4d4d" stroke-width="1.1"/>
<line x1="464.7" y1="486.5" x2="464.7" y2="548.9" stroke="#4d4d4d" stroke-width="1.1"/>
<line x1="472.2" y1="486.5" x2="472.2" y2="548.9" stroke="#4d4d4d" stroke-width="1.1"/>
<line x1="479.3" y1="486.5" x2="479.3" y2="548.9" stroke="#4d4d4d" stroke-width="1.1"/>
<line x1="502.8" y1="486.5" x2="502.8" y2="548.9" stroke="#4d4d4d" stroke-width="1.1"/>
<line x1="68.3" y1="487.2" x2="68.3" y2="548.9" stroke="#1a1a1a" stroke-width="1" stroke-dasharray="3.5 2.7" stroke-opacity="0.9"/>
<line x1="100.5" y1="487.2" x2="100.5" y2="548.9" stroke="#1a1a1a" stroke-width="1" stroke-dasharray="3.5 2.7" stroke-opacity="0.9"/>
<line x1="136.4" y1="487.2" x2="136.4" y2="548.9" stroke="#1a1a1a" stroke-width="1" stroke-dasharray="3.5 2.7" stroke-opacity="0.9"/>
<line x1="160.07" y1="487.2" x2="160.07" y2="548.9" stroke="#1a1a1a" stroke-width="1" stroke-dasharray="3.5 2.7" stroke-opacity="0.9"/>
<line x1="188.5" y1="487.2" x2="188.5" y2="548.9" stroke="#1a1a1a" stroke-width="1" stroke-dasharray="3.5 2.7" stroke-opacity="0.9"/>
<line x1="217.5" y1="487.2" x2="217.5" y2="548.9" stroke="#1a1a1a" stroke-width="1" stroke-dasharray="3.5 2.7" stroke-opacity="0.9"/>
<line x1="242.5" y1="487.2" x2="242.5" y2="548.9" stroke="#1a1a1a" stroke-width="1" stroke-dasharray="3.5 2.7" stroke-opacity="0.9"/>
<line x1="264.3" y1="487.2" x2="264.3" y2="548.9" stroke="#1a1a1a" stroke-width="1" stroke-dasharray="3.5 2.7" stroke-opacity="0.9"/>
<line x1="286.5" y1="487.2" x2="286.5" y2="548.9" stroke="#1a1a1a" stroke-width="1" stroke-dasharray="3.5 2.7" stroke-opacity="0.9"/>
<line x1="306.5" y1="487.2" x2="306.5" y2="548.9" stroke="#1a1a1a" stroke-width="1" stroke-dasharray="3.5 2.7" stroke-opacity="0.9"/>
<line x1="328.7" y1="487.2" x2="328.7" y2="548.9" stroke="#1a1a1a" stroke-width="1" stroke-dasharray="3.5 2.7" stroke-opacity="0.9"/>
<line x1="346.3" y1="487.2" x2="346.3" y2="548.9" stroke="#1a1a1a" stroke-width="1" stroke-dasharray="3.5 2.7" stroke-opacity="0.9"/>
<line x1="362.9" y1="487.2" x2="362.9" y2="548.9" stroke="#1a1a1a" stroke-width="1" stroke-dasharray="3.5 2.7" stroke-opacity="0.9"/>
<line x1="380.5" y1="487.2" x2="380.5" y2="548.9" stroke="#1a1a1a" stroke-width="1" stroke-dasharray="3.5 2.7" stroke-opacity="0.9"/>
<line x1="397.05" y1="487.2" x2="397.05" y2="548.9" stroke="#1a1a1a" stroke-width="1" stroke-dasharray="3.5 2.7" stroke-opacity="0.9"/>
<line x1="414.75" y1="487.2" x2="414.75" y2="548.9" stroke="#1a1a1a" stroke-width="1" stroke-dasharray="3.5 2.7" stroke-opacity="0.9"/>
<line x1="426.4" y1="487.2" x2="426.4" y2="548.9" stroke="#1a1a1a" stroke-width="1" stroke-dasharray="3.5 2.7" stroke-opacity="0.9"/>
<line x1="437.7" y1="487.2" x2="437.7" y2="548.9" stroke="#1a1a1a" stroke-width="1" stroke-dasharray="3.5 2.7" stroke-opacity="0.9"/>
<line x1="450.5" y1="487.2" x2="450.5" y2="548.9" stroke="#1a1a1a" stroke-width="1" stroke-dasharray="3.5 2.7" stroke-opacity="0.9"/>
<line x1="459.4" y1="487.2" x2="459.4" y2="548.9" stroke="#1a1a1a" stroke-width="1" stroke-dasharray="3.5 2.7" stroke-opacity="0.9"/>
<line x1="466.7" y1="487.2" x2="466.7" y2="548.9" stroke="#1a1a1a" stroke-width="1" stroke-dasharray="3.5 2.7" stroke-opacity="0.9"/>
<line x1="474.2" y1="487.2" x2="474.2" y2="548.9" stroke="#1a1a1a" stroke-width="1" stroke-dasharray="3.5 2.7" stroke-opacity="0.9"/>
<line x1="488.6" y1="487.2" x2="488.6" y2="548.9" stroke="#1a1a1a" stroke-width="1" stroke-dasharray="3.5 2.7" stroke-opacity="0.9"/>
<line x1="504.4" y1="487.2" x2="504.4" y2="548.9" stroke="#1a1a1a" stroke-width="1" stroke-dasharray="3.5 2.7" stroke-opacity="0.9"/>
<line x1="49.7" y1="486.5" x2="511.8" y2="486.5" stroke="#3a6220" stroke-width="1.2"/>
<line x1="46.15" y1="480.9" x2="46.15" y2="548.9" stroke="#0a0a0a" stroke-width="1.45"/>
<line x1="42.7" y1="486.5" x2="46.15" y2="486.5" stroke="#000000" stroke-width="1.05"/>
<text x="38.9" y="489.6" font-size="9.4" fill="#111" stroke="#111" stroke-width="0.18" text-anchor="end" transform="rotate(0.03 38.9 489.6)" textLength="15.71" lengthAdjust="spacingAndGlyphs">0 %</text>
<line x1="42.7" y1="500.25" x2="46.15" y2="500.25" stroke="#000000" stroke-width="1.05"/>
<text x="38.9" y="503.35" font-size="9.4" fill="#111" stroke="#111" stroke-width="0.18" text-anchor="end" transform="rotate(0.03 38.9 503.35)" textLength="20.78" lengthAdjust="spacingAndGlyphs">10 %</text>
<line x1="42.7" y1="514" x2="46.15" y2="514" stroke="#000000" stroke-width="1.05"/>
<text x="38.9" y="517.1" font-size="9.4" fill="#111" stroke="#111" stroke-width="0.18" text-anchor="end" transform="rotate(0.03 38.9 517.1)" textLength="20.78" lengthAdjust="spacingAndGlyphs">20 %</text>
<line x1="42.7" y1="527.75" x2="46.15" y2="527.75" stroke="#000000" stroke-width="1.05"/>
<text x="38.9" y="530.85" font-size="9.4" fill="#111" stroke="#111" stroke-width="0.18" text-anchor="end" transform="rotate(0.03 38.9 530.85)" textLength="20.78" lengthAdjust="spacingAndGlyphs">30 %</text>
<line x1="42.7" y1="541.5" x2="46.15" y2="541.5" stroke="#000000" stroke-width="1.05"/>
<text x="38.9" y="544.6" font-size="9.4" fill="#111" stroke="#111" stroke-width="0.18" text-anchor="end" transform="rotate(0.03 38.9 544.6)" textLength="20.78" lengthAdjust="spacingAndGlyphs">40 %</text>
<text x="68.55" y="571" font-size="9.4" fill="#111" stroke="#111" stroke-width="0.18" text-anchor="middle" transform="rotate(0.03 68.55 571)" textLength="4.91" lengthAdjust="spacingAndGlyphs">1</text>
<text x="105.3" y="561" font-size="9.4" fill="#111" stroke="#111" stroke-width="0.18" text-anchor="middle" transform="rotate(0.03 105.3 561)" textLength="4.91" lengthAdjust="spacingAndGlyphs">2</text>
<text x="138.15" y="571" font-size="9.4" fill="#111" stroke="#111" stroke-width="0.18" text-anchor="middle" transform="rotate(0.03 138.15 571)" textLength="4.91" lengthAdjust="spacingAndGlyphs">3</text>
<text x="167.34" y="561" font-size="9.4" fill="#111" stroke="#111" stroke-width="0.18" text-anchor="middle" transform="rotate(0.03 167.34 561)" textLength="4.91" lengthAdjust="spacingAndGlyphs">4</text>
<text x="195.26" y="571" font-size="9.4" fill="#111" stroke="#111" stroke-width="0.18" text-anchor="middle" transform="rotate(0.03 195.26 571)" textLength="4.91" lengthAdjust="spacingAndGlyphs">5</text>
<text x="221.22" y="561" font-size="9.4" fill="#111" stroke="#111" stroke-width="0.18" text-anchor="middle" transform="rotate(0.03 221.22 561)" textLength="4.91" lengthAdjust="spacingAndGlyphs">6</text>
<text x="245.85" y="571" font-size="9.4" fill="#111" stroke="#111" stroke-width="0.18" text-anchor="middle" transform="rotate(0.03 245.85 571)" textLength="4.91" lengthAdjust="spacingAndGlyphs">7</text>
<text x="268.8" y="561" font-size="9.4" fill="#111" stroke="#111" stroke-width="0.18" text-anchor="middle" transform="rotate(0.03 268.8 561)" textLength="4.91" lengthAdjust="spacingAndGlyphs">8</text>
<text x="290.3" y="571" font-size="9.4" fill="#111" stroke="#111" stroke-width="0.18" text-anchor="middle" transform="rotate(0.03 290.3 571)" textLength="4.91" lengthAdjust="spacingAndGlyphs">9</text>
<text x="310.95" y="561" font-size="9.4" fill="#111" stroke="#111" stroke-width="0.18" text-anchor="middle" transform="rotate(0.03 310.95 561)" textLength="9.83" lengthAdjust="spacingAndGlyphs">10</text>
<text x="331.1" y="571" font-size="9.4" fill="#111" stroke="#111" stroke-width="0.18" text-anchor="middle" transform="rotate(0.03 331.1 571)" textLength="9.17" lengthAdjust="spacingAndGlyphs">11</text>
<text x="351.25" y="561" font-size="9.4" fill="#111" stroke="#111" stroke-width="0.18" text-anchor="middle" transform="rotate(0.03 351.25 561)" textLength="9.83" lengthAdjust="spacingAndGlyphs">12</text>
<text x="369.78" y="571" font-size="9.4" fill="#111" stroke="#111" stroke-width="0.18" text-anchor="middle" transform="rotate(0.03 369.78 571)" textLength="9.83" lengthAdjust="spacingAndGlyphs">13</text>
<text x="386.38" y="561" font-size="9.4" fill="#111" stroke="#111" stroke-width="0.18" text-anchor="middle" transform="rotate(0.03 386.38 561)" textLength="9.83" lengthAdjust="spacingAndGlyphs">14</text>
<text x="402.1" y="571" font-size="9.4" fill="#111" stroke="#111" stroke-width="0.18" text-anchor="middle" transform="rotate(0.03 402.1 571)" textLength="9.83" lengthAdjust="spacingAndGlyphs">15</text>
<text x="416.35" y="561" font-size="9.4" fill="#111" stroke="#111" stroke-width="0.18" text-anchor="middle" transform="rotate(0.03 416.35 561)" textLength="9.83" lengthAdjust="spacingAndGlyphs">16</text>
<text x="429.2" y="571" font-size="9.4" fill="#111" stroke="#111" stroke-width="0.18" text-anchor="middle" transform="rotate(0.03 429.2 571)" textLength="9.83" lengthAdjust="spacingAndGlyphs">17</text>
<text x="441.1" y="561" font-size="9.4" fill="#111" stroke="#111" stroke-width="0.18" text-anchor="middle" transform="rotate(0.03 441.1 561)" textLength="9.83" lengthAdjust="spacingAndGlyphs">18</text>
<text x="451.23" y="571" font-size="9.4" fill="#111" stroke="#111" stroke-width="0.18" text-anchor="middle" transform="rotate(0.03 451.23 571)" textLength="9.83" lengthAdjust="spacingAndGlyphs">19</text>
<text x="460.32" y="561" font-size="9.4" fill="#111" stroke="#111" stroke-width="0.18" text-anchor="middle" transform="rotate(0.03 460.32 561)" textLength="9.83" lengthAdjust="spacingAndGlyphs">20</text>
<text x="468.75" y="571" font-size="9.4" fill="#111" stroke="#111" stroke-width="0.18" text-anchor="middle" transform="rotate(0.03 468.75 571)" textLength="9.83" lengthAdjust="spacingAndGlyphs">21</text>
<text x="476.05" y="561" font-size="9.4" fill="#111" stroke="#111" stroke-width="0.18" text-anchor="middle" transform="rotate(0.03 476.05 561)" textLength="9.83" lengthAdjust="spacingAndGlyphs">22</text>
<text x="491.35" y="571" font-size="9.4" fill="#111" stroke="#111" stroke-width="0.18" text-anchor="middle" transform="rotate(0.03 491.35 571)" textLength="5.89" lengthAdjust="spacingAndGlyphs">X</text>
<text x="507.6" y="561" font-size="9.4" fill="#111" stroke="#111" stroke-width="0.18" text-anchor="middle" transform="rotate(0.03 507.6 561)" textLength="5.89" lengthAdjust="spacingAndGlyphs">Y</text>
<g stroke="#000" stroke-width="0.45" stroke-linejoin="round">
<text x="8.2" y="20" font-size="13.4" fill="#000" transform="rotate(0.03 8.2 20)" font-weight="bold" textLength="10" lengthAdjust="spacingAndGlyphs">A</text>
<text x="8.6" y="478" font-size="13.4" fill="#000" transform="rotate(0.03 8.6 478)" font-weight="bold" textLength="8.6" lengthAdjust="spacingAndGlyphs">B</text>
</g>
<rect x="0" y="0" width="520" height="1.3" fill="#000"/>
<rect x="0" y="0" width="1.3" height="581" fill="#000"/>
<rect x="518.3" y="0" width="1.7" height="581" fill="#000"/>
<rect x="0" y="579.7" width="520" height="1.3" fill="#000"/>
</svg>
</body>
</html>
